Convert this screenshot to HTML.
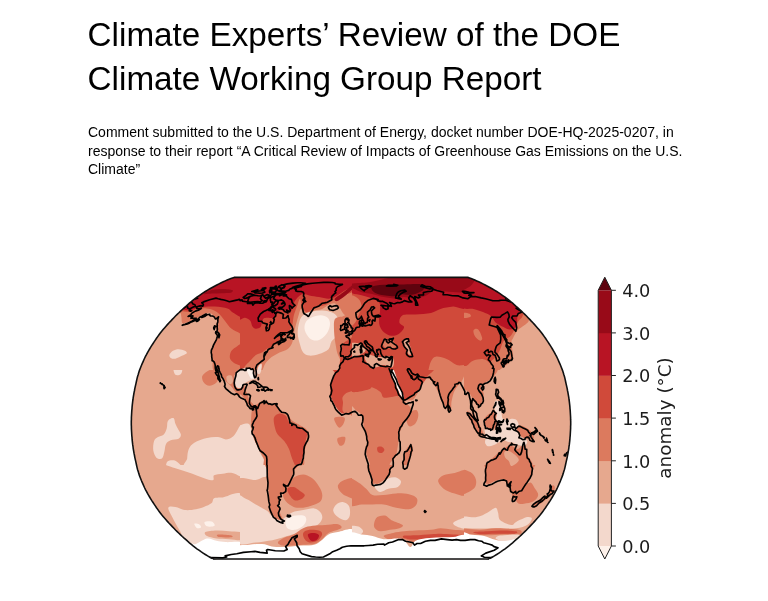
<!DOCTYPE html>
<html><head><meta charset="utf-8">
<style>
html,body{margin:0;padding:0;background:#fff;}
body{width:768px;height:601px;overflow:hidden;position:relative;font-family:"Liberation Sans",sans-serif;color:#000;}
h1{position:absolute;left:87.6px;top:12.8px;margin:0;font-weight:400;font-size:33.25px;line-height:43.75px;white-space:nowrap;}
p.sub{position:absolute;left:88px;top:123.4px;margin:0;font-size:14px;line-height:18.3px;white-space:nowrap;}
#fig{position:absolute;left:0;top:0;}
#fig text{font-family:"DejaVu Sans",sans-serif;fill:#1c1c1c;}
</style></head><body>
<h1>Climate Experts’ Review of the DOE<br>Climate Working Group Report</h1>
<p class="sub">Comment submitted to the U.S. Department of Energy, docket number DOE-HQ-2025-0207, in<br>response to their report “A Critical Review of Impacts of Greenhouse Gas Emissions on the U.S.<br>Climate”</p>
<svg id="fig" width="768" height="601" viewBox="0 0 768 601">
<defs><clipPath id="gc"><path d="M234.1 277.4L232.5 277.9L230.9 278.5L229.1 279.2L227.2 280.0L225.3 280.9L223.3 281.8L221.2 282.8L219.0 283.9L216.8 285.0L214.5 286.2L212.2 287.5L209.9 288.8L207.6 290.1L205.3 291.5L203.1 292.9L201.0 294.3L198.9 295.8L196.9 297.2L195.0 298.7L193.1 300.2L191.3 301.7L189.4 303.2L187.6 304.8L185.9 306.4L184.1 307.9L182.3 309.5L180.6 311.1L178.9 312.8L177.2 314.4L175.5 316.0L173.9 317.7L172.3 319.4L170.7 321.1L169.1 322.7L167.6 324.4L166.0 326.2L164.5 327.9L163.1 329.6L161.7 331.3L160.3 333.1L159.0 334.8L157.7 336.6L156.5 338.3L155.3 340.1L154.1 341.9L152.9 343.7L151.8 345.4L150.7 347.2L149.6 349.0L148.5 350.8L147.5 352.6L146.6 354.4L145.6 356.2L144.7 358.0L143.9 359.8L143.1 361.6L142.3 363.4L141.5 365.2L140.8 367.0L140.1 368.8L139.4 370.6L138.8 372.4L138.3 374.3L137.7 376.1L137.2 377.9L136.8 379.7L136.4 381.5L136.0 383.3L135.6 385.1L135.2 386.9L134.8 388.7L134.5 390.5L134.1 392.3L133.8 394.1L133.5 395.9L133.2 397.7L133.0 399.5L132.7 401.3L132.5 403.1L132.3 404.9L132.1 406.8L132.0 408.6L131.8 410.4L131.7 412.2L131.6 414.0L131.5 415.8L131.4 417.6L131.4 419.4L131.3 421.2L131.3 423.0L131.3 424.8L131.4 426.6L131.4 428.4L131.5 430.2L131.6 432.0L131.7 433.8L131.8 435.6L132.0 437.4L132.1 439.2L132.3 441.1L132.5 442.9L132.7 444.7L133.0 446.5L133.2 448.3L133.5 450.1L133.8 451.9L134.1 453.7L134.5 455.5L134.8 457.3L135.2 459.1L135.6 460.9L136.0 462.7L136.4 464.5L136.8 466.3L137.2 468.1L137.7 469.9L138.3 471.7L138.8 473.6L139.4 475.4L140.1 477.2L140.8 479.0L141.5 480.8L142.3 482.6L143.1 484.4L143.9 486.2L144.7 488.0L145.6 489.8L146.6 491.6L147.5 493.4L148.5 495.2L149.6 497.0L150.7 498.8L151.8 500.6L152.9 502.3L154.1 504.1L155.3 505.9L156.5 507.7L157.7 509.4L159.0 511.2L160.3 512.9L161.7 514.7L163.1 516.4L164.5 518.1L166.0 519.8L167.6 521.6L169.1 523.3L170.7 524.9L172.3 526.6L173.9 528.3L175.5 530.0L177.2 531.6L178.9 533.2L180.6 534.9L182.3 536.5L184.1 538.1L185.9 539.6L187.6 541.2L189.4 542.8L191.3 544.3L193.1 545.8L195.0 547.3L196.9 548.8L198.9 550.2L201.0 551.7L203.1 553.1L205.3 554.5L207.6 555.9L209.9 557.2L212.2 558.5L214.5 559.8L216.8 561.0L219.0 562.1L221.2 563.2L223.3 564.2L225.3 565.1L227.2 566.0L229.1 566.8L230.9 567.5L232.5 568.1L234.1 568.6L467.9 568.6L469.5 568.1L471.1 567.5L472.9 566.8L474.8 566.0L476.7 565.1L478.7 564.2L480.8 563.2L483.0 562.1L485.2 561.0L487.5 559.8L489.8 558.5L492.1 557.2L494.4 555.9L496.7 554.5L498.9 553.1L501.0 551.7L503.1 550.2L505.1 548.8L507.0 547.3L508.9 545.8L510.7 544.3L512.6 542.8L514.4 541.2L516.1 539.6L517.9 538.1L519.7 536.5L521.4 534.9L523.1 533.2L524.8 531.6L526.5 530.0L528.1 528.3L529.7 526.6L531.3 524.9L532.9 523.3L534.4 521.6L536.0 519.8L537.5 518.1L538.9 516.4L540.3 514.7L541.7 512.9L543.0 511.2L544.3 509.4L545.5 507.7L546.7 505.9L547.9 504.1L549.1 502.3L550.2 500.6L551.3 498.8L552.4 497.0L553.5 495.2L554.5 493.4L555.4 491.6L556.4 489.8L557.3 488.0L558.1 486.2L558.9 484.4L559.7 482.6L560.5 480.8L561.2 479.0L561.9 477.2L562.6 475.4L563.2 473.6L563.7 471.7L564.3 469.9L564.8 468.1L565.2 466.3L565.6 464.5L566.0 462.7L566.4 460.9L566.8 459.1L567.2 457.3L567.5 455.5L567.9 453.7L568.2 451.9L568.5 450.1L568.8 448.3L569.0 446.5L569.3 444.7L569.5 442.9L569.7 441.1L569.9 439.2L570.0 437.4L570.2 435.6L570.3 433.8L570.4 432.0L570.5 430.2L570.6 428.4L570.6 426.6L570.7 424.8L570.7 423.0L570.7 421.2L570.6 419.4L570.6 417.6L570.5 415.8L570.4 414.0L570.3 412.2L570.2 410.4L570.0 408.6L569.9 406.8L569.7 404.9L569.5 403.1L569.3 401.3L569.0 399.5L568.8 397.7L568.5 395.9L568.2 394.1L567.9 392.3L567.5 390.5L567.2 388.7L566.8 386.9L566.4 385.1L566.0 383.3L565.6 381.5L565.2 379.7L564.8 377.9L564.3 376.1L563.7 374.3L563.2 372.4L562.6 370.6L561.9 368.8L561.2 367.0L560.5 365.2L559.7 363.4L558.9 361.6L558.1 359.8L557.3 358.0L556.4 356.2L555.4 354.4L554.5 352.6L553.5 350.8L552.4 349.0L551.3 347.2L550.2 345.4L549.1 343.7L547.9 341.9L546.7 340.1L545.5 338.3L544.3 336.6L543.0 334.8L541.7 333.1L540.3 331.3L538.9 329.6L537.5 327.9L536.0 326.2L534.4 324.4L532.9 322.7L531.3 321.1L529.7 319.4L528.1 317.7L526.5 316.0L524.8 314.4L523.1 312.8L521.4 311.1L519.7 309.5L517.9 307.9L516.1 306.4L514.4 304.8L512.6 303.2L510.7 301.7L508.9 300.2L507.0 298.7L505.1 297.2L503.1 295.8L501.0 294.3L498.9 292.9L496.7 291.5L494.4 290.1L492.1 288.8L489.8 287.5L487.5 286.2L485.2 285.0L483.0 283.9L480.8 282.8L478.7 281.8L476.7 280.9L474.8 280.0L472.9 279.2L471.1 278.5L469.5 277.9L467.9 277.4Z"/></clipPath><clipPath id="fc"><rect x="120" y="270" width="470" height="289.3"/></clipPath></defs>
<g clip-path="url(#fc)"><g clip-path="url(#gc)">
<rect x="120" y="270" width="470" height="300" fill="#e6a88e"/>
<defs><clipPath id="w0"><rect x="128" y="275" width="112" height="95"/></clipPath><clipPath id="w1"><rect x="240" y="275" width="112" height="95"/></clipPath><clipPath id="w2"><rect x="352" y="275" width="112" height="95"/></clipPath><clipPath id="w3"><rect x="464" y="275" width="112" height="95"/></clipPath><clipPath id="w4"><rect x="128" y="370" width="112" height="95"/></clipPath><clipPath id="w5"><rect x="240" y="370" width="112" height="95"/></clipPath><clipPath id="w6"><rect x="352" y="370" width="112" height="95"/></clipPath><clipPath id="w7"><rect x="464" y="370" width="112" height="95"/></clipPath><clipPath id="w8"><rect x="128" y="465" width="112" height="95"/></clipPath><clipPath id="w9"><rect x="240" y="465" width="112" height="95"/></clipPath><clipPath id="w10"><rect x="352" y="465" width="112" height="95"/></clipPath><clipPath id="w11"><rect x="464" y="465" width="112" height="95"/></clipPath><clipPath id="w12"><rect x="216" y="350" width="64" height="48"/></clipPath><clipPath id="w13"><rect x="328" y="290" width="96" height="72"/></clipPath><clipPath id="w14"><rect x="464" y="380" width="96" height="72"/></clipPath><clipPath id="w15"><rect x="480" y="436" width="96" height="72"/></clipPath></defs><g clip-path="url(#w0)">
<path d="M169.4 354.8C169.8 353.6 171.5 351.7 173.0 350.8C174.5 349.9 176.6 349.2 178.6 349.2C180.5 349.2 183.5 350.2 184.9 350.8C186.2 351.5 187.2 352.4 186.8 353.2C186.4 354.0 184.4 354.6 182.5 355.6C180.6 356.5 177.4 358.3 175.4 358.7C173.4 359.1 171.7 358.6 170.7 357.9C169.7 357.3 169.0 356.0 169.4 354.8Z" fill="#f3d8cc"/>
<path d="M173.0 310.5C176.4 317.3 178.6 311.5 180.0 312.6C181.4 313.7 180.9 315.4 181.4 317.2C181.9 318.9 181.2 322.6 182.8 323.2C184.4 323.8 188.7 321.7 191.2 320.8C193.6 319.9 195.4 318.8 197.5 317.7C199.6 316.5 201.7 315.0 203.8 314.2C205.9 313.4 208.4 312.6 210.1 312.9C211.9 313.2 212.9 314.8 214.1 316.1C215.3 317.4 217.0 319.0 217.3 320.8C217.5 322.7 215.4 324.9 215.7 327.1C215.9 329.4 219.1 331.6 218.8 334.2C218.6 336.9 215.3 340.2 214.1 342.9C212.9 345.7 212.0 347.9 211.7 350.8C211.5 353.7 211.7 356.6 212.5 360.3C213.3 364.0 210.5 370.8 216.5 372.9C222.4 375.0 242.8 389.8 248.1 372.9C253.3 356.1 262.8 288.7 248.1 271.8C233.3 255.0 172.1 265.4 159.6 271.8C147.1 278.3 169.6 303.8 173.0 310.5Z" fill="#dc7a5e"/>
<path d="M174.6 310.1C176.9 316.7 178.5 311.1 181.2 311.3C184.0 311.6 188.2 312.1 191.2 311.6C194.2 311.2 195.9 308.9 199.1 308.5C202.2 308.0 206.9 308.1 210.1 309.0C213.4 309.8 216.2 311.5 218.7 313.5C221.1 315.5 222.9 318.5 225.0 321.0C227.1 323.5 228.8 326.5 231.3 328.6C233.8 330.6 238.0 332.1 240.0 333.4C242.0 334.8 242.8 335.3 243.3 336.6C243.9 337.9 244.3 339.8 243.3 341.3C242.3 342.9 239.5 344.3 237.5 345.9C235.5 347.5 232.5 348.9 231.3 351.0C230.1 353.1 229.4 356.3 230.0 358.4C230.7 360.5 233.0 362.2 234.9 363.5C236.9 364.7 239.6 365.3 241.7 365.8C243.9 366.4 247.0 382.3 248.1 366.6C249.1 351.0 261.5 287.6 248.1 271.8C234.6 256.0 179.7 265.5 167.5 271.8C155.2 278.2 172.3 303.5 174.6 310.1Z" fill="#d04a3a"/>
<path d="M175.4 309.0C176.4 315.2 179.1 309.3 181.7 309.4C184.3 309.6 188.1 310.4 191.2 310.1C194.2 309.7 196.1 307.8 200.0 307.2C204.0 306.6 210.5 306.4 215.0 306.6C219.6 306.8 224.6 307.5 227.5 308.5C230.4 309.4 230.3 310.9 232.4 312.3C234.5 313.6 237.4 315.7 240.0 316.7C242.6 317.7 246.7 325.9 248.1 318.4C249.4 311.0 260.2 279.6 248.1 271.8C235.9 264.1 187.5 265.7 175.4 271.8C163.3 278.0 174.3 302.7 175.4 309.0Z" fill="#b81424"/>
<path d="M203.8 294.0C203.8 293.4 208.6 290.8 211.7 290.0C214.9 289.2 219.4 288.9 222.8 288.9C226.2 288.9 230.9 289.4 232.3 290.0C233.6 290.6 232.5 292.2 230.7 292.7C228.8 293.2 224.4 293.0 221.2 293.2C218.0 293.3 214.6 293.5 211.7 293.6C208.8 293.8 203.8 294.6 203.8 294.0Z" fill="#980a18"/>
</g>
<g clip-path="url(#w1)">
<path d="M236.8 271.8C256.6 255.0 335.6 264.2 355.3 271.8C375.1 279.5 356.4 310.1 355.3 317.7C354.3 325.2 351.0 318.0 349.0 317.3C347.0 316.7 345.0 315.4 343.5 313.7C341.9 312.0 341.0 309.1 339.5 307.4C338.1 305.7 336.6 303.8 334.8 303.4C332.9 303.0 330.6 304.1 328.5 305.0C326.4 305.9 324.5 308.0 322.1 309.0C319.8 309.9 316.6 309.6 314.2 310.5C311.9 311.5 309.8 314.1 307.9 314.5C306.1 314.9 304.4 313.8 303.2 312.9C302.0 312.0 301.6 308.4 300.8 309.0C300.0 309.5 299.4 313.0 298.4 316.1C297.5 319.1 296.1 324.0 295.3 327.1C294.5 330.3 294.2 332.4 293.7 335.0C293.2 337.7 293.2 340.6 292.1 342.9C291.1 345.3 289.5 347.7 287.4 349.2C285.3 350.8 282.1 351.1 279.5 352.4C276.9 353.7 274.0 355.3 271.6 357.1C269.2 359.0 267.4 360.8 265.3 363.5C263.2 366.1 263.7 371.4 259.0 372.9C254.2 374.5 240.5 389.8 236.8 372.9C233.2 356.1 217.1 288.7 236.8 271.8Z" fill="#dc7a5e"/>
<path d="M236.8 271.8C256.6 255.5 335.6 268.9 355.3 271.8C375.1 274.7 357.4 285.3 355.3 289.2C353.2 293.2 346.4 293.7 342.7 295.5C339.0 297.4 336.1 298.7 333.2 300.3C330.3 301.9 327.7 304.0 325.3 305.0C322.9 306.1 321.1 305.9 319.0 306.6C316.9 307.3 314.5 308.0 312.7 309.0C310.8 309.9 309.4 311.9 307.9 312.1C306.5 312.4 305.0 311.5 304.0 310.5C302.9 309.6 302.3 308.6 301.6 306.6C300.9 304.6 300.8 298.7 300.0 298.7C299.2 298.7 297.9 303.7 296.9 306.6C295.8 309.5 294.5 312.9 293.7 316.1C292.9 319.2 293.2 322.7 292.1 325.6C291.1 328.4 289.8 330.8 287.4 333.4C285.0 336.1 281.1 338.7 277.9 341.3C274.8 344.0 271.1 346.6 268.4 349.2C265.8 351.9 264.2 354.8 262.1 357.1C260.0 359.5 257.9 361.6 255.8 363.5C253.7 365.3 251.6 367.1 249.5 368.2C247.4 369.3 245.3 369.6 243.2 369.9C241.1 370.2 237.9 386.3 236.8 369.9C235.8 353.6 217.1 288.2 236.8 271.8Z" fill="#d04a3a"/>
<path d="M236.8 271.8C256.7 264.4 335.6 269.7 355.3 271.8C375.1 273.9 357.2 281.3 355.3 284.5C353.5 287.6 347.7 288.7 344.3 290.8C340.8 292.9 337.4 295.8 334.8 297.1C332.1 298.4 331.1 298.7 328.5 298.7C325.8 298.7 322.1 297.6 319.0 297.1C315.8 296.6 312.1 296.1 309.5 295.5C306.9 295.0 305.0 293.7 303.2 294.0C301.3 294.2 299.9 295.5 298.4 296.8C297.0 298.1 295.3 300.3 294.3 302.0C293.4 303.8 293.4 305.7 292.8 307.2C292.1 308.8 291.9 310.8 290.2 311.3C288.6 311.9 284.9 310.4 282.8 310.4C280.7 310.4 279.1 310.1 277.8 311.3C276.4 312.5 276.2 316.6 274.4 317.7C272.7 318.7 269.0 317.5 267.2 317.7C265.4 317.8 264.6 317.8 263.7 318.4C262.8 319.1 262.5 320.3 262.0 321.8C261.4 323.2 261.6 326.0 260.5 327.1C259.5 328.3 257.2 328.8 255.8 328.7C254.4 328.6 253.2 327.7 252.3 326.3C251.4 325.0 251.5 322.2 250.3 320.8C249.1 319.4 247.4 318.5 245.1 317.8C242.7 317.1 237.4 324.0 236.1 316.4C234.7 308.7 217.0 279.3 236.8 271.8Z" fill="#b81424"/>
<path d="M250.0 360.9C251.9 359.0 254.2 356.2 256.3 354.8C258.4 353.3 260.6 353.3 262.4 352.2C264.3 351.2 266.0 349.0 267.5 348.5C269.0 348.0 271.7 347.8 271.6 349.2C271.5 350.7 268.7 354.8 266.9 357.1C265.0 359.5 262.5 360.8 260.5 363.5C258.6 366.1 258.0 371.4 255.0 372.9C252.0 374.5 244.2 374.0 242.5 372.9C240.8 371.9 243.5 368.6 244.7 366.6C246.0 364.6 248.0 362.9 250.0 360.9Z" fill="#dc7a5e"/>
<path d="M334.8 298.7C335.7 297.3 339.8 294.9 342.7 292.7C345.5 290.5 349.9 287.0 352.0 285.4C354.1 283.9 354.8 283.1 355.3 283.5C355.9 284.0 355.9 286.9 355.3 288.0C354.8 289.0 353.8 288.2 352.0 289.7C350.2 291.1 346.7 294.7 344.3 296.6C341.8 298.5 338.7 300.7 337.2 301.1C335.6 301.4 333.9 300.1 334.8 298.7Z" fill="#980a18"/>
<path d="M299.2 322.4C300.0 319.5 300.7 317.8 302.4 316.1C304.1 314.4 306.2 313.0 309.5 312.1C312.8 311.2 318.2 310.4 322.1 310.5C326.1 310.7 330.4 311.5 333.2 312.9C336.0 314.4 337.4 316.9 338.7 319.2C340.0 321.6 341.2 324.5 341.1 327.1C341.0 329.8 339.5 332.7 337.9 335.0C336.4 337.4 333.2 339.0 331.6 341.3C330.0 343.7 330.6 347.1 328.5 349.2C326.4 351.4 322.1 352.9 319.0 354.0C315.8 355.0 312.1 355.8 309.5 355.6C306.9 355.3 304.8 354.2 303.2 352.4C301.6 350.6 300.9 347.7 300.0 344.5C299.1 341.3 297.8 337.1 297.7 333.4C297.5 329.8 298.4 325.3 299.2 322.4Z" fill="#f3d8cc"/>
<path d="M305.6 322.4C306.6 320.3 308.6 318.8 311.1 317.7C313.6 316.5 317.8 315.3 320.6 315.3C323.3 315.3 326.1 316.2 327.7 317.7C329.3 319.1 330.0 321.6 330.0 324.0C330.0 326.3 329.0 329.5 327.7 331.9C326.4 334.2 324.1 336.7 322.1 338.2C320.2 339.6 317.9 340.6 315.8 340.6C313.7 340.6 311.3 339.9 309.5 338.2C307.7 336.5 305.4 332.9 304.8 330.3C304.1 327.7 304.5 324.5 305.6 322.4Z" fill="#fdf1ea"/>
<path d="M334.8 319.2C336.2 316.7 339.3 316.9 342.7 316.4C346.1 315.9 353.2 306.6 355.3 316.1C357.4 325.5 357.3 363.5 355.3 372.9C353.3 382.4 345.7 374.5 343.5 372.9C341.2 371.4 342.9 366.6 341.9 363.5C340.9 360.3 338.7 357.1 337.6 354.0C336.6 350.8 336.2 348.2 335.6 344.5C335.0 340.8 334.3 336.1 334.1 331.9C334.0 327.7 333.4 321.8 334.8 319.2Z" fill="#dc7a5e"/>
<path d="M342.7 344.5C344.0 342.1 346.9 340.8 349.0 339.8C351.1 338.7 354.3 332.7 355.3 338.2C356.4 343.7 357.7 367.1 355.3 372.9C352.9 378.7 343.7 374.5 341.1 372.9C338.5 371.4 339.8 366.6 339.8 363.5C339.8 360.3 340.6 357.1 341.1 354.0C341.6 350.8 341.4 346.9 342.7 344.5Z" fill="#d04a3a"/>
</g>
<g clip-path="url(#w2)">
<rect x="352" y="275" width="112" height="95" fill="#d04a3a"/>
<path d="M348.8 297.1C350.4 292.6 356.2 297.1 358.3 298.7C360.4 300.3 361.5 303.7 361.5 306.6C361.5 309.5 359.4 313.4 358.3 316.1C357.3 318.7 356.7 320.8 355.2 322.4C353.6 324.0 349.9 329.8 348.8 325.6C347.8 321.3 347.3 301.6 348.8 297.1Z" fill="#dc7a5e"/>
<path d="M348.8 344.5C350.2 342.3 354.2 342.8 356.7 342.9C359.2 343.1 362.4 344.0 363.8 345.3C365.3 346.6 365.8 349.4 365.4 350.8C365.0 352.3 363.2 353.1 361.5 354.0C359.8 354.9 357.3 356.0 355.2 356.4C353.1 356.7 349.9 358.3 348.8 356.4C347.8 354.4 347.5 346.7 348.8 344.5Z" fill="#e6a88e"/>
<path d="M365.4 354.0C366.6 353.2 370.2 355.0 372.5 355.6C374.9 356.1 376.7 357.0 379.6 357.1C382.5 357.3 387.5 355.8 389.9 356.4C392.3 356.9 393.5 358.5 393.9 360.3C394.3 362.1 394.0 366.6 392.3 367.4C390.6 368.2 386.4 365.0 383.6 365.0C380.8 365.0 378.1 367.4 375.7 367.4C373.3 367.4 371.1 366.2 369.4 365.0C367.7 363.9 366.1 362.1 365.4 360.3C364.8 358.5 364.2 354.8 365.4 354.0Z" fill="#e6a88e"/>
<path d="M348.8 271.8C368.6 268.7 447.6 266.0 467.3 271.8C487.1 277.6 469.7 300.8 467.3 306.6C464.9 312.4 457.6 306.2 453.1 306.6C448.6 307.0 444.1 307.9 440.5 309.0C436.8 310.0 435.2 312.0 431.0 312.9C426.8 313.8 419.9 314.1 415.2 314.5C410.4 314.9 405.2 314.0 402.6 315.3C399.9 316.6 399.1 320.4 399.4 322.4C399.7 324.4 404.1 325.3 404.1 327.1C404.1 329.0 401.5 332.0 399.4 333.4C397.3 334.9 394.1 336.1 391.5 335.8C388.9 335.6 385.6 333.6 383.6 331.9C381.6 330.2 380.4 327.9 379.6 325.6C378.9 323.2 379.1 320.3 379.2 317.7C379.2 315.0 380.1 312.3 380.1 309.8C380.1 307.3 380.6 304.5 379.2 302.6C377.8 300.7 374.7 299.6 371.7 298.4C368.8 297.1 365.3 296.5 361.5 295.2C357.7 294.0 350.9 294.7 348.8 290.8C346.7 286.9 329.1 275.0 348.8 271.8Z" fill="#b81424"/>
<path d="M348.8 284.8C349.6 284.1 350.0 284.0 353.3 283.5C356.5 283.1 363.5 283.0 368.3 282.3C373.1 281.6 377.9 280.4 382.0 279.4C386.1 278.5 390.2 277.8 393.1 276.6C396.0 275.3 387.0 272.6 399.4 271.8C411.8 271.1 456.0 268.7 467.3 271.8C478.6 275.0 470.7 287.5 467.3 290.8C463.9 294.1 452.3 291.6 446.8 291.6C441.3 291.6 437.6 290.1 434.1 290.8C430.7 291.5 429.4 294.2 426.2 295.5C423.1 296.9 418.9 298.4 415.2 298.7C411.5 299.0 407.3 297.1 404.1 297.1C401.0 297.1 399.7 298.7 396.2 298.7C392.8 298.7 387.6 297.9 383.6 297.1C379.6 296.3 375.7 294.8 372.1 294.0C368.5 293.1 364.9 293.1 362.0 292.2C359.0 291.4 356.7 289.7 354.5 288.9C352.3 288.1 349.8 288.3 348.8 287.6C347.9 287.0 348.1 285.5 348.8 284.8Z" fill="#980a18"/>
<path d="M372.1 286.8C373.8 285.7 378.2 285.2 383.6 284.8C388.9 284.4 397.8 284.5 404.1 284.5C410.4 284.4 418.3 283.6 421.5 284.5C424.7 285.4 424.7 288.3 423.1 290.0C421.5 291.7 416.0 294.1 412.0 294.7C408.1 295.4 402.0 293.7 399.4 294.0C396.8 294.2 399.4 296.2 396.2 296.3C393.1 296.5 384.3 295.5 380.4 294.7C376.6 294.0 374.7 292.9 373.3 291.6C371.9 290.3 370.4 288.0 372.1 286.8Z" fill="#5e030e"/>
<path d="M426.2 376.1C419.4 375.4 427.2 374.1 428.0 371.7C428.7 369.3 429.5 364.2 430.8 361.7C432.1 359.2 433.1 357.1 435.7 356.7C438.4 356.2 443.1 357.6 446.6 359.0C450.1 360.4 453.4 363.9 456.7 365.0C460.1 366.2 464.7 364.0 466.7 365.8C468.7 367.7 475.6 374.4 468.9 376.1C462.2 377.8 433.1 376.8 426.2 376.1Z" fill="#dc7a5e"/>
</g>
<g clip-path="url(#w3)">
<path d="M460.8 271.8C471.9 255.0 515.6 266.0 527.2 271.8C538.8 277.6 530.3 299.7 530.3 306.6C530.3 313.4 527.5 310.5 527.2 312.9C526.9 315.3 529.3 318.7 528.8 320.8C528.2 322.9 525.9 324.0 524.0 325.6C522.2 327.1 519.6 328.2 517.7 330.3C515.9 332.4 514.0 336.1 513.0 338.2C511.9 340.3 511.4 339.8 511.4 342.9C511.4 346.1 513.5 353.7 513.0 357.1C512.4 360.6 510.1 361.6 508.2 363.5C506.4 365.3 504.5 366.6 501.9 368.2C499.3 369.8 499.3 372.2 492.4 372.9C485.6 373.7 466.1 389.8 460.8 372.9C455.6 356.1 449.8 288.7 460.8 271.8Z" fill="#dc7a5e"/>
<path d="M460.8 271.8C471.9 255.0 516.7 265.3 527.2 271.8C537.7 278.4 525.6 302.9 524.0 311.3C522.4 319.8 519.8 318.4 517.7 322.4C515.6 326.3 513.8 331.9 511.4 335.0C509.0 338.2 505.3 339.0 503.5 341.3C501.6 343.7 501.6 346.6 500.3 349.2C499.0 351.9 497.4 354.8 495.6 357.1C493.8 359.5 491.1 360.8 489.3 363.5C487.4 366.1 489.3 371.4 484.5 372.9C479.8 374.5 464.8 389.8 460.8 372.9C456.9 356.1 449.8 288.7 460.8 271.8Z" fill="#d04a3a"/>
<path d="M473.5 330.3C474.0 329.1 476.8 328.2 478.2 329.5C479.7 330.8 481.9 336.3 482.2 338.2C482.4 340.0 481.0 340.8 479.8 340.6C478.6 340.3 476.1 338.3 475.1 336.6C474.0 334.9 473.0 331.5 473.5 330.3Z" fill="#dc7a5e"/>
<path d="M462.4 312.9C463.6 312.3 468.2 313.0 469.5 313.7C470.8 314.4 471.5 316.2 470.3 316.9C469.1 317.5 463.7 318.3 462.4 317.7C461.1 317.0 461.2 313.6 462.4 312.9Z" fill="#dc7a5e"/>
<path d="M460.8 366.6C461.8 364.9 464.7 366.8 466.7 365.8C468.7 364.9 470.2 361.9 473.0 360.8C475.8 359.7 480.4 358.8 483.3 359.2C486.1 359.6 488.3 361.3 490.1 363.3C491.9 365.3 493.4 369.2 494.0 371.4C494.7 373.5 499.5 375.3 494.0 376.1C488.5 376.9 466.4 377.7 460.8 376.1C455.3 374.5 459.9 368.3 460.8 366.6Z" fill="#dc7a5e"/>
<path d="M460.8 271.8C472.4 266.3 520.3 265.8 530.3 271.8C540.4 277.9 523.0 301.1 520.9 308.2C518.8 315.3 518.5 311.3 517.7 314.5C516.9 317.7 517.4 324.6 516.1 327.1C514.8 329.6 511.9 329.5 509.8 329.5C507.7 329.5 505.9 328.3 503.5 327.1C501.1 325.9 497.7 324.2 495.6 322.4C493.5 320.5 493.0 317.8 490.9 316.1C488.7 314.4 485.9 313.3 483.0 312.1C480.1 310.9 477.2 310.1 473.5 309.0C469.8 307.8 462.9 311.2 460.8 305.0C458.7 298.8 449.3 277.4 460.8 271.8Z" fill="#b81424"/>
<path d="M460.8 271.8C463.7 269.0 476.0 270.3 478.2 271.8C480.5 273.4 475.8 278.7 474.3 281.3C472.7 283.9 471.0 286.1 468.7 287.3C466.5 288.6 462.2 291.5 460.8 288.9C459.5 286.3 457.9 274.7 460.8 271.8Z" fill="#980a18"/>
</g>
<g clip-path="url(#w4)">
<path d="M173.8 368.4C174.9 367.4 180.5 367.5 181.7 368.4C182.9 369.3 182.0 372.9 180.9 373.9C179.9 375.0 176.6 375.7 175.4 374.7C174.2 373.8 172.8 369.5 173.8 368.4Z" fill="#f3d8cc"/>
<path d="M169.9 419.0C170.9 418.3 172.9 417.4 173.8 418.2C174.7 419.0 174.6 421.7 175.4 423.7C176.2 425.7 177.6 428.2 178.6 430.0C179.5 431.9 180.9 433.3 180.9 434.8C180.9 436.2 180.3 437.8 178.6 438.7C176.8 439.6 172.8 439.4 170.7 440.3C168.5 441.2 167.0 442.3 165.9 444.2C164.9 446.2 165.0 449.8 164.3 452.1C163.7 454.5 163.3 457.5 162.0 458.5C160.6 459.4 157.9 459.0 156.4 457.7C155.0 456.4 153.7 453.3 153.3 450.6C152.9 447.8 153.3 443.3 154.1 441.1C154.9 438.8 156.4 438.2 158.0 437.1C159.6 436.1 162.1 436.2 163.5 434.8C165.0 433.3 166.0 430.6 166.7 428.4C167.4 426.3 167.0 423.7 167.5 422.1C168.0 420.6 168.8 419.6 169.9 419.0Z" fill="#f3d8cc"/>
<path d="M188.8 449.0C190.0 446.4 191.3 444.5 194.3 442.7C197.4 440.8 203.0 438.8 207.0 437.9C210.9 437.0 214.9 436.9 218.0 437.1C221.2 437.4 223.6 439.5 225.9 439.5C228.3 439.5 230.6 438.3 232.3 437.1C233.9 436.0 234.6 434.7 235.9 432.7C237.2 430.8 238.9 426.8 240.2 425.4C241.4 424.1 242.8 417.4 243.3 424.5C243.8 431.6 252.5 460.7 243.3 467.9C234.1 475.2 197.4 469.5 188.0 467.9C178.7 466.4 187.1 461.6 187.2 458.5C187.4 455.3 187.6 451.6 188.8 449.0Z" fill="#f3d8cc"/>
<path d="M167.5 461.6C168.8 460.4 173.0 459.8 175.4 460.8C177.8 461.9 183.0 466.8 181.7 467.9C180.4 469.1 169.9 469.0 167.5 467.9C165.1 466.9 166.2 462.8 167.5 461.6Z" fill="#f3d8cc"/>
<path d="M202.2 376.3C202.8 374.5 205.1 372.8 207.0 371.6C208.8 370.4 211.3 368.8 213.3 369.2C215.3 369.6 218.3 371.7 218.8 373.9C219.4 376.2 218.0 380.7 216.5 382.6C214.9 384.6 211.5 385.8 209.4 385.8C207.2 385.8 205.0 384.2 203.8 382.6C202.6 381.1 201.7 378.2 202.2 376.3Z" fill="#dc7a5e"/>
<path d="M216.5 366.8C219.9 365.0 238.8 362.1 243.3 366.8C247.8 371.6 244.4 390.8 243.3 395.3C242.3 399.8 239.1 395.3 237.0 393.7C234.9 392.1 233.0 388.4 230.7 385.8C228.3 383.2 225.2 381.1 222.8 377.9C220.4 374.7 213.0 368.7 216.5 366.8Z" fill="#dc7a5e"/>
<path d="M226.7 376.3C227.4 375.3 230.4 374.7 231.5 375.5C232.5 376.3 233.2 379.6 233.0 381.1C232.9 382.5 231.7 384.1 230.7 384.2C229.7 384.3 227.9 383.2 227.2 381.8C226.5 380.5 226.0 377.4 226.7 376.3Z" fill="#e6a88e"/>
</g>
<g clip-path="url(#w5)">
<path d="M236.8 424.5C237.4 417.4 238.7 425.4 240.0 425.3C241.3 425.2 243.2 423.8 244.7 423.7C246.3 423.6 248.2 422.9 249.5 424.5C250.7 426.1 251.4 430.4 252.3 433.2C253.2 436.0 253.8 437.9 255.0 441.1C256.2 444.2 258.0 447.7 259.7 452.1C261.5 456.6 269.1 465.3 265.3 467.9C261.5 470.6 241.6 475.2 236.8 467.9C232.1 460.7 236.3 431.6 236.8 424.5Z" fill="#f3d8cc"/>
<path d="M252.6 407.9C253.7 405.4 255.5 405.1 257.4 404.0C259.2 402.8 261.3 400.8 263.7 400.8C266.1 400.8 269.4 403.4 271.6 404.0C273.8 404.5 275.8 403.0 277.1 404.0C278.4 404.9 277.8 407.8 279.5 409.5C281.2 411.2 285.3 412.4 287.4 414.2C289.5 416.1 290.0 418.7 292.1 420.6C294.2 422.4 297.7 423.8 300.0 425.3C302.4 426.7 304.9 427.7 306.3 429.2C307.8 430.8 308.7 432.3 308.7 434.8C308.7 437.3 307.1 441.1 306.3 444.2C305.6 447.4 304.9 449.8 304.0 453.7C303.1 457.7 307.0 465.6 300.8 467.9C294.6 470.3 273.0 469.5 266.9 467.9C260.7 466.4 265.0 461.6 263.7 458.5C262.4 455.3 260.5 452.1 259.0 449.0C257.4 445.8 255.4 442.7 254.2 439.5C253.0 436.3 252.4 433.5 251.8 430.0C251.3 426.6 250.9 422.7 251.1 419.0C251.2 415.3 251.6 410.4 252.6 407.9Z" fill="#dc7a5e"/>
<path d="M236.8 382.6C237.9 381.3 241.6 382.6 243.2 384.2C244.7 385.8 245.3 389.5 246.3 392.1C247.4 394.7 248.2 397.8 249.5 400.0C250.8 402.3 254.0 404.2 254.2 405.5C254.5 406.9 252.4 408.6 251.1 407.9C249.7 407.3 247.9 403.7 246.3 401.6C244.7 399.5 243.2 396.9 241.6 395.3C240.0 393.7 237.6 394.2 236.8 392.1C236.1 390.0 235.8 384.0 236.8 382.6Z" fill="#dc7a5e"/>
<path d="M274.0 417.4C274.8 415.2 277.5 413.7 279.5 413.4C281.5 413.2 284.2 414.4 285.8 415.8C287.4 417.3 287.4 420.6 289.0 422.1C290.6 423.7 292.9 424.2 295.3 425.3C297.7 426.3 301.2 427.1 303.2 428.4C305.2 429.8 306.7 431.1 307.1 433.2C307.5 435.3 306.1 437.9 305.6 441.1C305.0 444.2 304.8 448.7 304.0 452.1C303.2 455.6 302.0 459.0 300.8 461.6C299.6 464.3 298.3 468.5 296.9 467.9C295.4 467.4 293.4 461.6 292.1 458.5C290.8 455.3 290.3 451.9 289.0 449.0C287.7 446.1 286.1 443.5 284.2 441.1C282.4 438.7 279.5 437.1 277.9 434.8C276.3 432.4 275.4 429.8 274.8 426.9C274.1 424.0 273.2 419.6 274.0 417.4Z" fill="#d04a3a"/>
<path d="M331.6 366.8C335.0 365.8 351.4 359.2 355.3 366.8C359.3 374.5 356.4 404.9 355.3 412.7C354.3 420.4 351.4 413.4 349.0 413.4C346.6 413.4 343.5 414.1 341.1 412.7C338.7 411.2 336.5 407.6 334.8 404.8C333.1 401.9 331.5 399.0 330.8 395.3C330.2 391.6 330.2 386.3 330.8 382.6C331.5 379.0 334.6 375.8 334.8 373.2C334.9 370.5 328.2 367.9 331.6 366.8Z" fill="#d04a3a"/>
<path d="M342.5 397.5C343.1 395.9 344.7 394.1 346.3 393.1C347.9 392.0 350.2 391.6 352.0 391.2C353.8 390.7 356.1 386.4 356.9 390.5C357.7 394.6 358.0 411.7 356.9 415.8C355.8 419.9 352.6 415.4 350.6 415.0C348.6 414.6 346.4 414.3 345.0 413.4C343.7 412.6 342.9 411.8 342.5 410.0C342.2 408.1 343.0 404.6 343.0 402.5C343.0 400.5 342.0 399.1 342.5 397.5Z" fill="#dc7a5e"/>
<path d="M334.8 417.4C336.2 416.5 342.8 416.3 344.3 417.4C345.7 418.4 344.3 422.0 343.5 423.7C342.7 425.4 340.8 427.8 339.5 427.7C338.2 427.5 336.4 424.6 335.6 422.9C334.8 421.2 333.3 418.3 334.8 417.4Z" fill="#dc7a5e"/>
<path d="M337.9 437.9C339.2 437.1 344.0 436.2 345.0 437.1C346.1 438.1 345.0 442.0 344.3 443.5C343.5 444.9 341.4 446.1 340.3 445.8C339.2 445.6 338.0 443.2 337.6 441.9C337.2 440.6 336.7 438.7 337.9 437.9Z" fill="#dc7a5e"/>
</g>
<g clip-path="url(#w6)">
<rect x="352" y="370" width="112" height="95" fill="#dc7a5e"/>
<path d="M348.8 409.5C350.2 400.0 354.6 410.0 356.7 411.1C358.8 412.1 360.2 412.7 361.5 415.8C362.8 419.0 363.6 426.1 364.6 430.0C365.7 434.0 367.5 435.8 367.8 439.5C368.1 443.2 366.0 447.4 366.2 452.1C366.5 456.9 372.3 465.3 369.4 467.9C366.5 470.6 352.3 477.7 348.8 467.9C345.4 458.2 347.5 419.0 348.8 409.5Z" fill="#e6a88e"/>
<path d="M404.9 400.8C405.3 399.1 410.8 401.7 413.6 399.2C416.4 396.7 419.4 389.5 421.5 385.8C423.6 382.1 424.1 377.4 426.2 377.1C428.4 376.8 431.8 380.9 434.1 384.2C436.5 387.5 438.5 393.0 440.5 396.9C442.4 400.7 444.3 404.8 446.0 407.1C447.7 409.5 449.8 412.0 450.7 411.1C451.7 410.2 450.9 405.0 451.5 401.6C452.2 398.2 453.1 393.7 454.7 390.5C456.3 387.4 458.9 384.5 461.0 382.6C463.1 380.8 466.3 365.3 467.3 379.5C468.4 393.7 479.4 453.2 467.3 467.9C455.2 482.7 406.5 470.0 394.7 467.9C382.8 465.8 395.7 459.3 396.2 455.3C396.8 451.4 397.6 447.9 398.1 444.2C398.7 440.6 398.1 437.1 399.4 433.2C400.7 429.2 403.7 424.5 405.7 420.6C407.7 416.6 411.4 412.8 411.2 409.5C411.1 406.2 404.5 402.5 404.9 400.8Z" fill="#e6a88e"/>
<path d="M406.5 449.0C407.7 447.1 410.2 444.0 411.2 444.2C412.3 444.5 413.2 447.7 412.8 450.6C412.4 453.5 410.2 458.7 408.9 461.6C407.6 464.5 406.0 467.4 404.9 467.9C403.9 468.5 402.7 466.9 402.6 464.8C402.4 462.7 403.5 457.9 404.1 455.3C404.8 452.7 405.3 450.8 406.5 449.0Z" fill="#dc7a5e"/>
<path d="M406.5 417.4C407.0 414.9 410.3 412.3 412.0 411.1C413.7 409.9 415.7 409.5 416.8 410.3C417.8 411.1 418.6 413.6 418.3 415.8C418.1 418.0 416.8 422.0 415.2 423.7C413.6 425.4 410.3 427.1 408.9 426.1C407.4 425.0 406.0 419.9 406.5 417.4Z" fill="#dc7a5e"/>
<path d="M348.8 366.8C362.1 362.9 415.0 365.3 428.1 366.8C441.3 368.4 428.6 373.3 427.5 376.3C426.4 379.3 423.6 382.1 421.5 385.0C419.5 387.9 418.1 391.3 415.2 393.7C412.3 396.1 406.8 398.8 404.1 399.2C401.5 399.6 401.5 396.5 399.4 396.1C397.3 395.7 394.1 396.6 391.5 396.9C388.9 397.1 385.4 398.4 383.6 397.6C381.8 396.9 382.3 393.8 380.4 392.1C378.6 390.4 374.6 387.8 372.5 387.4C370.4 387.0 371.7 389.2 367.8 389.7C363.8 390.3 352.0 394.4 348.8 390.5C345.7 386.7 335.6 370.8 348.8 366.8Z" fill="#d04a3a"/>
<path d="M389.9 369.2C389.4 366.4 391.8 366.4 393.4 369.2C395.0 372.0 397.7 381.3 399.4 385.8C401.1 390.3 403.3 394.3 403.7 396.1C404.0 397.9 402.5 398.3 401.3 396.5C400.0 394.8 398.1 390.4 396.2 385.8C394.3 381.2 390.4 372.0 389.9 369.2Z" fill="#fdf1ea"/>
<path d="M377.3 447.4C377.8 446.5 380.0 446.2 381.2 446.6C382.4 447.0 384.3 448.7 384.4 449.8C384.5 450.8 383.1 452.5 382.0 452.9C381.0 453.3 378.9 453.1 378.1 452.1C377.3 451.2 376.7 448.3 377.3 447.4Z" fill="#d04a3a"/>
</g>
<g clip-path="url(#w7)">
<path d="M460.8 366.8C466.6 363.7 490.1 365.3 495.6 366.8C501.1 368.4 495.3 373.9 494.0 376.3C492.7 378.7 489.8 379.5 487.7 381.1C485.6 382.6 482.0 383.7 481.4 385.8C480.7 387.9 483.6 391.1 483.7 393.7C483.9 396.3 483.1 399.5 482.2 401.6C481.2 403.7 479.7 406.6 478.2 406.3C476.8 406.1 475.1 402.4 473.5 400.0C471.9 397.6 470.3 394.0 468.7 392.1C467.2 390.3 465.3 390.0 464.0 389.0C462.7 387.9 461.4 389.5 460.8 385.8C460.3 382.1 455.0 370.0 460.8 366.8Z" fill="#dc7a5e"/>
<path d="M467.2 411.1C467.9 410.8 471.4 413.4 473.5 415.8C475.6 418.2 478.2 422.4 479.8 425.3C481.4 428.2 483.0 431.6 483.0 433.2C483.0 434.8 481.4 436.1 479.8 434.8C478.2 433.5 475.3 428.2 473.5 425.3C471.6 422.4 469.8 419.8 468.7 417.4C467.7 415.0 466.4 411.3 467.2 411.1Z" fill="#dc7a5e"/>
<path d="M484.5 419.0C485.1 416.3 488.9 413.8 490.9 412.7C492.8 411.5 495.2 410.5 496.4 411.9C497.6 413.2 498.1 417.9 498.0 420.6C497.8 423.2 497.3 426.3 495.6 427.7C493.9 429.0 489.5 429.9 487.7 428.4C485.9 427.0 484.0 421.6 484.5 419.0Z" fill="#dc7a5e"/>
<path d="M516.1 429.2C516.4 427.9 520.1 426.6 522.4 426.9C524.8 427.1 528.5 429.0 530.3 430.8C532.2 432.7 534.0 436.7 533.5 437.9C533.0 439.1 529.3 438.5 527.2 437.9C525.1 437.4 522.7 436.2 520.9 434.8C519.0 433.3 515.9 430.6 516.1 429.2Z" fill="#dc7a5e"/>
<path d="M487.7 467.9C481.9 465.8 492.7 458.7 495.6 455.3C498.5 451.9 502.4 449.0 505.1 447.4C507.7 445.8 509.3 445.6 511.4 445.8C513.5 446.1 515.6 449.2 517.7 449.0C519.8 448.7 522.4 443.5 524.0 444.2C525.6 445.0 526.1 449.8 527.2 453.7C528.2 457.7 536.9 465.6 530.3 467.9C523.8 470.3 493.5 470.0 487.7 467.9Z" fill="#dc7a5e"/>
<path d="M485.3 441.1C485.9 439.8 488.4 438.7 490.9 437.9C493.4 437.1 497.7 437.4 500.3 436.3C503.0 435.3 504.8 434.0 506.7 431.6C508.5 429.2 509.8 424.0 511.4 422.1C513.0 420.3 515.1 419.2 516.1 420.6C517.2 421.9 516.9 427.4 517.7 430.0C518.5 432.7 519.3 434.5 520.9 436.3C522.4 438.2 526.7 439.5 527.2 441.1C527.7 442.7 525.9 445.3 524.0 445.8C522.2 446.4 518.5 445.0 516.1 444.2C513.8 443.5 511.9 441.9 509.8 441.1C507.7 440.3 505.9 439.0 503.5 439.5C501.1 440.0 498.2 443.2 495.6 444.2C493.0 445.3 489.4 446.4 487.7 445.8C486.0 445.3 484.8 442.4 485.3 441.1Z" fill="#f3d8cc"/>
<path d="M494.8 401.6C495.5 399.5 498.5 400.5 499.5 403.2C500.6 405.8 501.4 414.2 501.1 417.4C500.9 420.6 498.9 422.4 498.0 422.1C497.0 421.9 496.1 419.2 495.6 415.8C495.1 412.4 494.1 403.7 494.8 401.6Z" fill="#f3d8cc"/>
</g>
<g clip-path="url(#w8)">
<path d="M164.3 461.8C151.4 462.4 164.1 463.9 165.9 465.0C167.8 466.1 172.2 467.1 175.4 468.2C178.6 469.2 181.7 470.3 184.9 471.3C188.0 472.4 190.7 473.2 194.3 474.5C198.0 475.8 203.8 478.3 207.0 479.2C210.1 480.1 212.1 480.7 213.3 480.0C214.5 479.3 212.5 476.3 214.1 475.3C215.7 474.2 219.8 474.1 222.8 473.7C225.8 473.3 228.8 472.5 232.3 472.9C235.7 473.3 241.5 478.2 243.3 476.4C245.2 474.5 256.5 464.3 243.3 461.8C230.2 459.4 177.2 461.3 164.3 461.8Z" fill="#f3d8cc"/>
<path d="M168.3 507.7C168.8 505.9 172.6 506.5 175.4 506.9C178.2 507.3 181.4 509.6 184.9 510.0C188.3 510.4 192.8 509.8 195.9 509.2C199.1 508.7 201.2 507.9 203.8 506.9C206.5 505.8 210.0 504.4 211.7 502.9C213.4 501.5 212.3 499.1 214.1 498.2C215.9 497.3 217.9 497.6 222.8 497.4C227.7 497.1 239.9 488.3 243.3 496.6C246.7 504.9 252.0 538.7 243.3 547.1C234.6 555.6 201.7 549.8 191.2 547.1C180.7 544.5 183.3 536.3 180.1 531.3C177.0 526.3 174.2 521.1 172.2 517.1C170.3 513.2 167.8 509.4 168.3 507.7Z" fill="#f3d8cc"/>
<path d="M205.4 532.1C207.0 531.2 212.5 530.7 216.5 530.6C220.4 530.4 224.6 531.0 229.1 531.3C233.6 531.7 240.9 531.5 243.3 532.9C245.7 534.4 245.7 539.0 243.3 540.0C240.9 541.1 233.6 539.5 229.1 539.2C224.6 539.0 220.1 539.0 216.5 538.5C212.8 537.9 208.8 537.1 207.0 536.1C205.1 535.0 203.8 533.1 205.4 532.1Z" fill="#e6a88e"/>
<path d="M218.0 534.5C220.0 534.2 228.4 534.8 230.7 535.3C232.9 535.8 233.4 537.1 231.5 537.3C229.5 537.6 221.1 537.3 218.8 536.9C216.6 536.4 216.1 534.8 218.0 534.5Z" fill="#dc7a5e"/>
<path d="M194.3 523.8C194.7 523.2 198.0 523.6 199.1 524.2C200.2 524.8 201.4 526.8 201.0 527.4C200.6 528.0 197.8 528.5 196.7 527.9C195.6 527.3 194.0 524.4 194.3 523.8Z" fill="#fdf1ea"/>
<path d="M204.6 521.9C205.4 521.1 210.1 520.9 211.7 521.6C213.4 522.2 215.4 525.0 214.6 525.8C213.8 526.6 208.6 527.0 207.0 526.3C205.3 525.6 203.8 522.7 204.6 521.9Z" fill="#fdf1ea"/>
<path d="M191.2 544.8C192.0 541.6 193.3 545.0 195.9 544.0C198.6 542.9 203.6 539.0 207.0 538.5C210.4 537.9 213.3 540.2 216.5 540.8C219.6 541.4 221.5 541.6 225.9 542.1C230.4 542.6 240.4 540.2 243.3 543.7C246.2 547.1 252.0 559.7 243.3 562.9C234.6 566.2 199.9 566.0 191.2 562.9C182.5 559.9 190.4 547.9 191.2 544.8Z" fill="#ffffff"/>
</g>
<g clip-path="url(#w9)">
<path d="M236.8 461.8C242.0 459.5 262.4 459.7 267.6 461.8C272.9 463.9 269.0 471.8 268.1 474.5C267.2 477.1 264.2 476.7 262.1 477.6C260.1 478.6 258.4 479.9 255.8 480.0C253.2 480.1 249.5 479.1 246.3 478.4C243.2 477.8 238.4 478.8 236.8 476.1C235.3 473.3 231.7 464.2 236.8 461.8Z" fill="#f3d8cc"/>
<path d="M266.9 461.8C272.0 460.3 294.0 460.3 298.4 461.8C302.9 463.4 295.0 468.4 293.7 471.3C292.4 474.2 291.9 476.8 290.6 479.2C289.2 481.6 287.1 483.4 285.8 485.5C284.5 487.6 283.7 489.7 282.7 491.9C281.6 494.0 280.0 495.0 279.5 498.2C279.0 501.3 279.0 507.3 279.5 510.8C280.0 514.4 282.9 518.1 282.7 519.5C282.4 520.9 279.8 520.4 277.9 519.5C276.1 518.6 273.0 517.0 271.6 514.0C270.1 510.9 269.8 506.3 269.2 501.3C268.7 496.3 268.7 489.0 268.4 484.0C268.2 479.0 267.9 475.0 267.6 471.3C267.4 467.6 261.7 463.4 266.9 461.8Z" fill="#dc7a5e"/>
<path d="M285.8 485.5C287.7 482.9 290.8 479.5 293.7 477.6C296.6 475.8 300.3 474.5 303.2 474.5C306.1 474.5 308.7 476.1 311.1 477.6C313.5 479.2 315.6 481.3 317.4 484.0C319.2 486.6 321.6 490.5 322.1 493.4C322.7 496.3 322.1 499.4 320.6 501.3C319.0 503.3 315.6 504.2 312.7 505.3C309.8 506.3 306.3 507.4 303.2 507.7C300.0 507.9 296.6 507.9 293.7 506.9C290.8 505.8 287.7 503.6 285.8 501.3C284.0 499.1 282.7 496.1 282.7 493.4C282.7 490.8 284.0 488.2 285.8 485.5Z" fill="#dc7a5e"/>
<path d="M287.4 488.7C287.9 487.1 291.6 486.7 293.7 487.1C295.8 487.5 298.2 489.7 300.0 491.1C301.9 492.4 304.5 493.7 304.8 495.0C305.0 496.3 303.2 498.0 301.6 499.0C300.0 499.9 297.1 500.9 295.3 500.5C293.4 500.1 291.9 498.6 290.6 496.6C289.2 494.6 286.9 490.3 287.4 488.7Z" fill="#d04a3a"/>
<path d="M337.9 485.5C338.5 483.4 341.4 481.1 344.3 480.0C347.2 479.0 353.5 476.3 355.3 479.2C357.2 482.1 356.6 494.5 355.3 497.4C354.0 500.3 349.8 497.4 347.4 496.6C345.0 495.8 342.7 494.5 341.1 492.6C339.5 490.8 337.4 487.6 337.9 485.5Z" fill="#dc7a5e"/>
<path d="M236.8 498.2C238.4 491.2 243.2 497.9 246.3 499.0C249.5 500.0 252.4 502.5 255.8 504.5C259.2 506.5 264.2 509.0 266.9 510.8C269.5 512.7 269.5 514.0 271.6 515.6C273.7 517.1 277.1 520.0 279.5 520.3C281.9 520.6 283.7 518.4 285.8 517.1C287.9 515.8 289.2 513.6 292.1 512.4C295.0 511.2 299.5 510.7 303.2 510.0C306.9 509.4 311.3 508.0 314.2 508.4C317.1 508.8 319.2 510.7 320.6 512.4C321.9 514.1 322.7 516.6 322.1 518.7C321.6 520.8 320.0 523.2 317.4 525.0C314.8 526.9 309.8 528.5 306.3 529.8C302.9 531.1 300.0 531.9 296.9 532.9C293.7 534.0 290.8 535.0 287.4 536.1C284.0 537.1 279.5 538.5 276.3 539.2C273.2 540.0 271.9 540.3 268.4 540.8C265.0 541.4 261.1 542.4 255.8 542.4C250.5 542.4 240.0 548.2 236.8 540.8C233.7 533.5 235.3 505.2 236.8 498.2Z" fill="#f3d8cc"/>
<path d="M285.8 520.3C286.6 518.3 289.2 517.1 292.1 516.3C295.0 515.6 300.8 515.0 303.2 515.6C305.6 516.1 306.3 517.8 306.3 519.5C306.3 521.2 305.0 524.1 303.2 525.8C301.3 527.5 297.9 529.4 295.3 529.8C292.7 530.2 289.0 529.8 287.4 528.2C285.8 526.6 285.0 522.3 285.8 520.3Z" fill="#fdf1ea"/>
<path d="M333.2 510.8C332.9 508.7 334.8 505.9 336.4 504.5C337.9 503.0 340.6 501.9 342.7 502.1C344.8 502.4 347.8 503.8 349.0 506.1C350.2 508.3 350.3 513.2 349.8 515.6C349.3 517.9 347.8 520.0 345.8 520.3C343.9 520.6 340.0 518.7 337.9 517.1C335.8 515.6 333.5 512.9 333.2 510.8Z" fill="#f3d8cc"/>
<path d="M277.9 542.4C278.2 541.1 281.6 539.0 284.2 537.7C286.9 536.3 290.6 536.1 293.7 534.5C296.9 532.9 300.0 529.6 303.2 528.2C306.3 526.7 309.0 526.3 312.7 525.8C316.4 525.3 321.1 525.3 325.3 525.0C329.5 524.8 335.3 523.7 337.9 524.2C340.6 524.8 342.7 526.7 341.1 528.2C339.5 529.6 331.6 531.1 328.5 532.9C325.3 534.8 324.5 537.4 322.1 539.2C319.8 541.1 317.4 543.1 314.2 544.0C311.1 544.9 306.9 544.5 303.2 544.8C299.5 545.0 295.6 545.4 292.1 545.6C288.7 545.7 285.0 546.1 282.7 545.6C280.3 545.0 277.6 543.7 277.9 542.4Z" fill="#dc7a5e"/>
<path d="M303.2 532.9C304.0 531.3 306.9 530.2 309.5 529.8C312.1 529.4 316.9 529.8 319.0 530.6C321.1 531.3 322.4 532.8 322.1 534.5C321.9 536.2 319.5 539.5 317.4 540.8C315.3 542.1 311.6 542.7 309.5 542.4C307.4 542.1 305.8 540.8 304.8 539.2C303.7 537.7 302.4 534.5 303.2 532.9Z" fill="#d04a3a"/>
<path d="M307.9 534.5C308.5 533.2 312.4 532.8 314.2 532.9C316.1 533.1 318.6 534.1 319.0 535.3C319.4 536.5 317.9 539.1 316.6 540.0C315.3 541.0 312.5 541.7 311.1 540.8C309.6 539.9 307.4 535.8 307.9 534.5Z" fill="#b81424"/>
<path d="M236.8 547.1C238.9 544.1 245.3 545.3 249.5 544.8C253.7 544.2 258.4 543.7 262.1 544.0C265.8 544.2 268.4 545.8 271.6 546.4C274.8 546.9 277.6 547.1 281.1 547.1C284.5 547.1 288.4 546.6 292.1 546.4C295.8 546.1 299.5 545.8 303.2 545.6C306.9 545.3 311.1 545.7 314.2 544.8C317.4 543.9 319.8 541.7 322.1 540.0C324.5 538.3 325.8 535.8 328.5 534.5C331.1 533.2 333.5 532.7 337.9 532.1C342.4 531.6 352.4 526.2 355.3 531.3C358.2 536.5 375.1 557.7 355.3 562.9C335.6 568.2 256.6 565.6 236.8 562.9C217.1 560.3 234.7 550.2 236.8 547.1Z" fill="#ffffff"/>
</g>
<g clip-path="url(#w10)">
<path d="M367.8 461.8C371.6 460.8 387.7 460.5 391.5 461.8C395.3 463.2 391.5 467.1 390.7 469.7C389.9 472.4 388.7 475.4 386.8 477.6C384.8 479.9 381.1 482.1 378.9 483.2C376.6 484.2 374.6 485.1 373.3 484.0C372.0 482.8 371.7 478.7 371.0 476.1C370.2 473.4 369.1 470.5 368.6 468.2C368.1 465.8 364.0 462.9 367.8 461.8Z" fill="#dc7a5e"/>
<path d="M374.1 484.0C374.9 483.2 378.1 484.9 380.4 484.0C382.8 483.0 385.7 479.5 388.3 478.4C391.0 477.4 394.1 477.1 396.2 477.6C398.3 478.2 400.7 480.0 401.0 481.6C401.2 483.2 399.9 485.9 397.8 487.1C395.7 488.3 391.2 487.9 388.3 488.7C385.4 489.5 382.5 491.9 380.4 491.9C378.3 491.9 376.7 490.0 375.7 488.7C374.6 487.4 373.3 484.7 374.1 484.0Z" fill="#f3d8cc"/>
<path d="M348.8 480.0C350.4 476.3 355.4 480.9 358.3 482.4C361.2 483.8 363.8 486.6 366.2 488.7C368.6 490.8 369.6 494.0 372.5 495.0C375.4 496.1 379.6 495.3 383.6 495.0C387.5 494.8 392.0 493.6 396.2 493.4C400.4 493.3 405.4 493.4 408.9 494.2C412.3 495.0 415.6 496.3 416.8 498.2C418.0 500.0 417.3 503.4 416.0 505.3C414.7 507.1 412.2 508.8 408.9 509.2C405.6 509.6 400.4 508.4 396.2 507.7C392.0 506.9 387.5 505.0 383.6 504.5C379.6 504.0 376.2 504.5 372.5 504.5C368.9 504.5 365.4 504.5 361.5 504.5C357.5 504.5 350.9 508.6 348.8 504.5C346.7 500.4 347.3 483.7 348.8 480.0Z" fill="#dc7a5e"/>
<path d="M438.1 480.8C438.1 478.6 440.9 476.6 443.6 475.3C446.4 474.0 450.7 473.6 454.7 472.9C458.6 472.2 465.2 467.8 467.3 471.3C469.4 474.9 469.4 490.5 467.3 494.2C465.2 497.9 458.6 494.4 454.7 493.4C450.7 492.5 446.4 490.8 443.6 488.7C440.9 486.6 438.1 483.0 438.1 480.8Z" fill="#dc7a5e"/>
<path d="M374.1 523.4C374.5 521.6 375.4 518.4 377.3 517.1C379.1 515.8 382.8 515.0 385.2 515.6C387.5 516.1 388.6 518.7 391.5 520.3C394.4 521.9 401.2 523.7 402.6 525.0C403.9 526.3 401.5 527.4 399.4 528.2C397.3 529.0 393.1 529.2 389.9 529.8C386.8 530.3 382.9 531.6 380.4 531.3C377.9 531.1 376.0 529.5 374.9 528.2C373.9 526.9 373.7 525.3 374.1 523.4Z" fill="#dc7a5e"/>
<path d="M383.6 536.1C383.6 534.8 389.6 533.7 393.1 532.9C396.5 532.1 400.4 531.7 404.1 531.3C407.8 531.0 410.7 530.8 415.2 530.6C419.7 530.3 426.8 530.2 431.0 529.8C435.2 529.4 436.8 528.2 440.5 528.2C444.1 528.2 448.6 529.2 453.1 529.8C457.6 530.3 464.9 529.8 467.3 531.3C469.7 532.9 469.7 538.1 467.3 539.2C464.9 540.4 457.6 538.5 453.1 538.5C448.6 538.5 444.1 539.0 440.5 539.2C436.8 539.5 435.2 539.5 431.0 540.0C426.8 540.6 419.7 542.5 415.2 542.4C410.7 542.3 407.8 539.5 404.1 539.2C400.4 539.0 396.5 541.4 393.1 540.8C389.6 540.3 383.6 537.4 383.6 536.1Z" fill="#dc7a5e"/>
<path d="M404.1 535.6C406.0 535.2 410.7 535.5 415.2 535.3C419.7 535.1 426.8 534.5 431.0 534.2C435.2 533.9 436.8 533.7 440.5 533.7C444.1 533.8 448.6 534.3 453.1 534.5C457.6 534.7 464.9 534.7 467.3 535.1C469.7 535.6 471.8 536.8 467.3 537.2C462.8 537.5 449.2 536.8 440.5 537.2C431.8 537.6 421.2 539.4 415.2 539.6C409.1 539.7 406.0 538.6 404.1 538.0C402.3 537.3 402.3 536.1 404.1 535.6Z" fill="#d04a3a"/>
<path d="M348.8 526.6C350.4 525.3 355.9 525.8 358.3 526.6C360.7 527.4 363.1 529.9 363.1 531.3C363.1 532.8 360.7 534.8 358.3 535.3C355.9 535.8 350.4 536.0 348.8 534.5C347.3 533.1 347.3 527.9 348.8 526.6Z" fill="#f3d8cc"/>
<path d="M453.1 523.4C453.1 522.1 457.0 520.4 459.4 519.5C461.8 518.6 466.0 516.5 467.3 517.9C468.6 519.4 468.6 526.6 467.3 528.2C466.0 529.8 461.8 528.2 459.4 527.4C457.0 526.6 453.1 524.8 453.1 523.4Z" fill="#f3d8cc"/>
<path d="M348.8 534.5C350.9 529.8 357.5 534.2 361.5 534.5C365.4 534.8 368.9 535.3 372.5 536.1C376.2 536.9 379.4 538.9 383.6 539.2C387.8 539.6 394.4 538.3 397.8 538.5C401.2 538.6 402.0 538.6 404.1 540.0C406.2 541.5 408.6 547.0 410.4 547.1C412.3 547.3 412.6 542.6 415.2 541.1C417.8 539.7 422.0 538.9 426.2 538.3C430.5 537.7 436.0 537.7 440.5 537.5C444.9 537.3 448.6 537.2 453.1 537.0C457.6 536.9 464.9 532.2 467.3 536.6C469.7 540.9 487.1 558.5 467.3 562.9C447.6 567.3 368.6 567.7 348.8 562.9C329.1 558.2 346.7 539.2 348.8 534.5Z" fill="#ffffff"/>
</g>
<g clip-path="url(#w11)">
<path d="M487.7 460.3C495.4 458.4 524.8 458.4 532.2 460.3C539.7 462.1 532.8 467.9 532.2 471.3C531.7 474.7 530.1 478.2 528.8 480.8C527.4 483.4 525.6 485.3 524.0 487.1C522.4 489.0 520.6 490.3 519.3 491.9C518.0 493.4 517.2 495.4 516.1 496.6C515.1 497.8 513.8 499.8 513.0 499.0C512.2 498.2 512.2 494.1 511.4 491.9C510.6 489.6 509.5 487.6 508.2 485.5C506.9 483.4 505.6 480.0 503.5 479.2C501.4 478.4 498.2 480.0 495.6 480.8C493.0 481.6 489.5 484.0 487.7 484.0C485.9 484.0 485.3 482.9 485.0 480.8C484.7 478.7 485.7 474.7 486.1 471.3C486.6 467.9 480.0 462.1 487.7 460.3Z" fill="#dc7a5e"/>
<path d="M516.1 496.6C517.2 494.0 521.7 489.5 524.0 487.1C526.4 484.7 528.5 482.1 530.3 482.4C532.2 482.6 533.8 486.6 535.1 488.7C536.4 490.8 538.5 492.9 538.2 495.0C538.0 497.1 535.9 499.9 533.5 501.3C531.1 502.8 526.7 503.4 524.0 503.7C521.4 504.0 519.0 504.1 517.7 502.9C516.4 501.7 515.1 499.2 516.1 496.6Z" fill="#dc7a5e"/>
<path d="M533.5 504.5C534.3 503.3 537.5 500.8 539.8 499.0C542.2 497.1 545.6 495.7 547.7 493.4C549.8 491.2 551.3 486.3 552.5 485.5C553.6 484.7 555.4 486.9 554.8 488.7C554.3 490.5 551.5 494.2 549.3 496.6C547.1 499.0 543.8 501.3 541.4 502.9C539.0 504.5 536.4 505.8 535.1 506.1C533.8 506.3 532.7 505.7 533.5 504.5Z" fill="#dc7a5e"/>
<path d="M460.8 471.3C462.4 467.9 467.8 470.8 470.3 472.1C472.8 473.4 475.1 476.7 475.8 479.2C476.6 481.7 476.2 485.0 475.1 487.1C473.9 489.2 471.1 490.9 468.7 491.9C466.4 492.8 462.2 496.1 460.8 492.6C459.5 489.2 459.3 474.7 460.8 471.3Z" fill="#dc7a5e"/>
<path d="M460.8 517.1C463.5 515.4 472.2 517.9 476.6 517.1C481.1 516.3 484.5 514.0 487.7 512.4C490.9 510.8 493.9 507.7 495.6 507.7C497.3 507.7 497.2 510.3 498.0 512.4C498.8 514.5 498.1 518.2 500.3 520.3C502.6 522.4 508.8 524.8 511.4 525.0C514.0 525.3 513.5 523.2 516.1 521.9C518.8 520.6 524.6 517.7 527.2 517.1C529.8 516.6 531.9 517.4 531.9 518.7C531.9 520.0 529.8 523.4 527.2 525.0C524.6 526.6 521.4 527.7 516.1 528.2C510.9 528.7 504.8 528.3 495.6 528.2C486.4 528.1 466.6 529.2 460.8 527.4C455.0 525.6 458.2 518.8 460.8 517.1Z" fill="#f3d8cc"/>
<path d="M460.8 529.0C464.0 528.2 474.0 529.9 479.8 529.8C485.6 529.6 490.3 528.3 495.6 528.2C500.9 528.1 507.2 528.6 511.4 529.0C515.6 529.4 519.6 529.6 520.9 530.6C522.2 531.5 522.2 533.8 519.3 534.5C516.4 535.2 508.8 534.4 503.5 534.5C498.2 534.6 493.0 535.3 487.7 535.3C482.4 535.3 476.4 534.6 471.9 534.5C467.4 534.4 462.7 535.4 460.8 534.5C459.0 533.6 457.7 529.8 460.8 529.0Z" fill="#dc7a5e"/>
<path d="M473.5 532.1C474.8 531.7 482.7 531.6 487.7 531.3C492.7 531.1 498.8 530.6 503.5 530.6C508.2 530.6 514.3 530.8 516.1 531.3C518.0 531.9 518.0 533.3 514.6 533.7C511.1 534.1 501.4 533.6 495.6 533.7C489.8 533.8 483.5 534.5 479.8 534.2C476.1 533.9 472.2 532.6 473.5 532.1Z" fill="#d04a3a"/>
<path d="M460.8 534.5C462.7 529.3 467.8 534.6 471.7 534.8C475.6 535.1 480.8 535.4 484.2 536.1C487.7 536.8 489.7 538.2 492.4 538.9C495.1 539.7 497.2 540.5 500.3 540.5C503.5 540.6 508.0 540.1 511.4 539.2C514.8 538.4 517.4 536.3 520.9 535.3C524.3 534.2 530.1 527.8 531.9 532.9C533.8 538.1 543.8 560.6 531.9 566.1C520.1 571.6 472.7 571.4 460.8 566.1C449.0 560.8 459.0 539.7 460.8 534.5Z" fill="#ffffff"/>
<path d="M500.3 535.6C504.0 535.0 514.6 534.2 517.7 534.5C520.9 534.8 520.3 536.5 519.3 537.3C518.2 538.2 514.3 539.3 511.4 539.9C508.5 540.5 504.5 541.1 501.9 540.8C499.3 540.6 495.9 539.3 495.6 538.5C495.3 537.6 496.6 536.3 500.3 535.6Z" fill="#f3d8cc"/>
</g>
<g clip-path="url(#w12)">
<path d="M235.6 373.3C236.3 372.1 237.0 370.8 238.5 370.0C240.0 369.2 242.5 368.6 244.3 368.3C246.1 368.1 247.8 368.0 249.3 368.3C250.9 368.7 252.5 369.3 253.5 370.4C254.5 371.5 254.6 373.7 255.2 375.0C255.7 376.3 257.2 377.6 256.8 378.3C256.4 379.1 253.9 379.2 252.7 379.6C251.4 380.0 250.6 380.3 249.3 380.8C248.1 381.4 246.3 382.2 245.2 382.9C244.1 383.6 243.4 384.2 242.7 385.0C242.0 385.8 242.0 387.5 241.0 387.9C240.0 388.3 237.9 388.3 236.8 387.5C235.8 386.7 235.2 385.0 234.8 383.3C234.3 381.7 234.2 379.2 234.3 377.5C234.5 375.8 234.9 374.6 235.6 373.3Z" fill="#f3d8cc"/>
<path d="M246.8 370.0C247.0 369.0 249.1 369.0 250.2 369.2C251.2 369.3 252.4 369.9 253.1 370.8C253.8 371.8 254.2 373.8 254.3 375.0C254.5 376.2 254.5 377.4 253.9 377.9C253.4 378.5 251.8 378.8 251.0 378.3C250.2 377.8 249.6 376.4 248.9 375.0C248.2 373.6 246.6 371.0 246.8 370.0Z" fill="#fdf1ea"/>
<path d="M257.2 373.3C256.9 372.4 257.3 369.7 257.7 368.3C258.0 366.9 258.7 365.8 259.3 365.0C260.0 364.2 261.0 363.5 261.4 363.8C261.8 364.0 261.9 365.5 261.8 366.7C261.8 367.8 261.3 369.7 261.0 370.8C260.7 372.0 260.4 373.3 259.8 373.8C259.1 374.2 257.6 374.2 257.2 373.3Z" fill="#f3d8cc"/>
</g>
<g clip-path="url(#w13)">
<path d="M383.0 342.5C383.5 341.4 385.3 339.9 386.8 339.4C388.2 338.9 390.5 338.9 391.8 339.4C393.0 339.9 393.5 341.4 394.2 342.5C395.0 343.6 396.3 345.3 396.1 346.2C395.9 347.2 394.6 347.8 393.0 348.1C391.4 348.4 388.3 348.4 386.8 348.1C385.2 347.8 384.2 347.2 383.6 346.2C383.0 345.3 382.5 343.6 383.0 342.5Z" fill="#dc7a5e"/>
<path d="M404.2 340.0C404.9 339.2 407.2 338.1 408.0 338.8C408.8 339.4 408.7 342.1 409.2 343.8C409.8 345.4 410.7 347.1 411.1 348.8C411.5 350.4 412.2 352.8 411.8 353.8C411.3 354.7 409.6 355.2 408.6 354.4C407.7 353.5 406.9 350.5 406.1 348.8C405.4 347.0 404.6 345.2 404.2 343.8C403.9 342.3 403.6 340.8 404.2 340.0Z" fill="#e6a88e"/>
</g>
<g clip-path="url(#w14)">
<path d="M484.6 430.0C485.1 428.9 487.2 429.4 489.0 429.4C490.8 429.4 493.6 431.4 495.2 430.0C496.9 428.6 498.6 424.4 499.0 421.2C499.4 418.1 497.5 414.0 497.8 411.2C498.0 408.5 499.6 404.8 500.2 405.0C500.9 405.2 501.1 410.2 501.5 412.5C501.9 414.8 501.7 417.5 502.8 418.8C503.8 420.0 506.3 420.0 507.8 420.0C509.2 420.0 510.0 418.8 511.5 418.8C513.0 418.8 515.2 418.8 516.5 420.0C517.8 421.2 518.8 424.4 519.0 426.2C519.2 428.1 517.8 429.6 517.8 431.2C517.8 432.9 518.0 435.0 519.0 436.2C520.0 437.5 523.4 437.7 524.0 438.8C524.6 439.8 524.0 442.1 522.8 442.5C521.5 442.9 518.4 441.2 516.5 441.2C514.6 441.2 513.2 442.5 511.5 442.5C509.8 442.5 508.2 441.9 506.5 441.2C504.8 440.6 503.4 439.0 501.5 438.8C499.6 438.5 496.7 439.0 495.2 440.0C493.8 441.0 494.0 444.0 492.8 445.0C491.5 446.0 489.0 446.7 487.8 446.2C486.5 445.8 485.6 444.2 485.2 442.5C484.9 440.8 486.0 438.3 485.9 436.2C485.8 434.2 484.1 431.1 484.6 430.0Z" fill="#f3d8cc"/>
<path d="M484.6 421.2C485.1 419.6 487.4 417.9 489.0 416.2C490.6 414.6 492.7 411.7 494.0 411.2C495.3 410.8 496.5 412.1 496.8 413.8C497.0 415.4 495.7 418.9 495.2 421.2C494.8 423.6 495.0 426.9 494.0 428.1C493.0 429.4 490.4 429.1 489.0 428.8C487.6 428.4 486.6 427.5 485.9 426.2C485.1 425.0 484.1 422.9 484.6 421.2Z" fill="#dc7a5e"/>
<path d="M516.5 428.8C516.6 427.2 518.6 425.7 520.2 425.6C521.9 425.5 524.6 427.0 526.5 428.1C528.4 429.3 530.2 430.5 531.5 432.5C532.8 434.5 534.4 439.0 534.0 440.0C533.6 441.0 530.7 439.1 529.0 438.8C527.3 438.4 525.6 438.8 524.0 438.1C522.4 437.5 520.9 436.6 519.6 435.0C518.4 433.4 516.4 430.3 516.5 428.8Z" fill="#dc7a5e"/>
</g>
<g clip-path="url(#w15)">
<path d="M504.4 452.2C505.0 451.2 507.0 450.6 508.8 451.0C510.5 451.4 513.3 453.3 515.0 454.8C516.7 456.2 518.5 458.3 518.8 459.8C519.0 461.2 517.5 462.5 516.2 463.5C515.0 464.5 512.5 466.4 511.2 466.0C510.0 465.6 509.8 462.5 508.8 461.0C507.7 459.5 505.7 458.7 505.0 457.2C504.3 455.8 503.8 453.3 504.4 452.2Z" fill="#e6a88e"/>
</g>
<path d="M389.1 368.8L390.5 372.4L390.9 373.9L392.3 377.9L393.4 379.8L395.1 383.3L395.5 385.1L395.6 387.6L397.3 390.5L398.7 394.8L400.3 396.5L402.6 399.5L403.5 400.4L403.3 402.1L403.8 402.6L405.7 404.2L407.5 403.5L409.3 402.8L411.1 402.6L413.1 401.7L413.2 404.2L411.8 408.6L410.7 412.2L408.9 415.8L406.3 419.4L403.1 423.0L401.6 426.1L400.2 427.5L399.4 430.2L398.7 432.0L399.0 435.3L398.9 438.3L399.4 441.1L400.2 442.0L400.2 445.6L400.3 449.2L400.2 450.1L399.0 452.8L397.4 454.2L395.5 455.5L394.2 457.3L392.9 458.7L393.1 460.9L393.3 462.7L393.2 466.3L390.8 468.1L389.7 469.9L389.9 471.7L389.1 474.5L387.3 477.0L385.4 479.9L383.4 482.6L380.7 484.4L378.7 484.7L375.8 485.1L374.0 485.8L372.3 484.9L371.8 482.6L372.1 479.9L370.7 475.4L370.4 474.6L368.9 471.0L368.2 467.2L368.3 464.3L367.2 460.9L366.0 457.3L365.2 454.2L365.6 450.4L366.6 446.5L367.4 445.4L367.8 442.3L366.8 439.2L366.7 436.5L366.0 433.8L365.4 431.7L364.2 429.3L362.6 426.6L361.7 424.3L362.5 422.3L362.7 421.2L363.0 418.8L362.8 416.7L362.6 415.8L361.4 414.9L359.5 415.2L358.3 415.2L357.1 413.1L355.1 411.4L352.8 411.8L351.0 412.7L348.6 414.0L346.1 413.6L343.7 414.5L341.7 415.1L339.4 413.1L337.8 411.6L335.8 409.5L334.9 407.7L334.3 405.8L333.0 403.5L332.1 401.5L330.8 400.6L330.8 398.6L329.8 396.5L331.1 394.1L331.8 390.5L331.2 388.0L330.6 385.4L330.7 384.5L332.1 380.2L333.8 375.9L335.8 372.6L337.8 371.2L339.8 368.1L339.6 366.1L341.0 363.4L342.2 362.3L343.1 361.6L344.2 358.4L347.7 359.4L350.3 358.5L354.5 356.6L356.8 356.6L359.9 356.4L362.2 355.7L363.5 356.0L363.1 357.3L363.4 360.4L362.7 361.8L363.7 362.0L366.3 363.6L368.5 364.5L370.4 366.7L373.2 368.3L374.4 367.4L374.4 365.0L376.2 363.6L377.2 363.8L378.9 365.0L380.4 365.9L382.7 366.3L385.9 366.7L387.1 366.1L388.7 366.5L390.5 366.9L391.1 366.1L391.6 363.8L392.0 361.8L392.3 360.0L392.1 358.9L392.1 357.6L392.4 356.9L391.0 356.6L389.4 357.8L387.6 357.1L386.0 356.4L385.8 357.6L384.8 357.6L383.3 356.7L382.3 356.2L381.0 353.7L380.5 351.7L380.5 350.8L380.2 349.7L379.0 349.2L378.3 349.2L377.7 350.5L376.7 349.9L376.8 351.7L377.2 352.6L378.3 354.4L377.1 354.6L377.5 355.5L377.0 357.1L375.8 356.6L375.1 354.9L375.4 353.9L374.5 352.8L373.5 351.3L372.8 349.9L372.8 348.5L372.4 347.2L371.5 346.3L369.2 344.6L367.7 343.5L366.9 341.9L366.7 341.4L366.2 342.1L365.9 340.8L364.5 341.2L364.5 342.8L365.9 344.4L366.8 346.5L368.9 347.4L369.9 348.8L371.2 349.7L371.8 350.8L370.1 350.1L369.7 351.7L370.3 352.6L368.8 354.4L369.3 352.8L368.5 350.8L367.0 349.4L366.1 348.7L364.7 347.6L363.3 346.3L362.4 344.6L361.8 343.5L360.8 343.0L359.4 344.0L359.0 344.2L357.6 345.3L357.0 344.9L355.4 344.7L354.4 345.1L354.4 346.3L354.6 347.4L353.5 348.3L351.9 349.6L350.7 351.7L351.2 353.1L350.1 355.1L348.5 356.7L346.0 356.7L344.8 357.8L343.8 357.1L343.0 355.8L340.8 356.2L340.4 353.1L341.0 350.5L341.3 348.7L340.7 345.6L342.4 344.2L344.7 344.6L346.8 344.7L349.0 344.9L349.7 342.6L349.7 340.8L349.7 339.8L348.6 338.0L346.4 336.9L345.9 335.9L347.8 335.2L349.3 335.5L349.0 333.6L349.8 334.1L350.8 334.3L351.1 334.0L352.6 332.9L352.8 331.5L354.4 330.8L355.3 329.6L355.9 327.9L357.2 327.2L359.3 327.0L359.9 326.3L359.8 324.8L359.2 323.6L359.5 321.1L361.6 319.9L361.4 321.9L360.9 323.6L361.1 324.8L361.4 325.6L362.2 326.2L363.8 325.5L365.2 326.0L367.9 325.3L369.7 324.8L370.2 325.5L371.4 325.0L372.4 323.3L372.1 321.1L372.8 320.0L374.9 321.1L375.2 318.7L375.2 317.0L378.4 317.0L380.5 316.2L378.6 315.1L375.3 315.7L373.5 316.4L372.3 315.2L371.7 313.6L371.4 311.0L373.7 308.7L374.6 307.9L373.5 306.7L371.5 307.1L370.1 309.8L367.5 312.1L367.7 314.9L368.8 317.2L367.6 318.4L367.5 321.1L367.1 322.4L365.7 322.7L365.0 323.8L364.2 323.4L363.9 321.9L362.8 319.9L361.8 317.7L361.4 316.2L360.8 317.7L358.9 319.2L357.5 319.2L356.6 317.7L356.1 315.4L355.8 312.8L359.0 310.5L360.4 309.5L362.3 307.1L364.0 304.3L365.3 302.6L367.7 300.6L371.6 299.1L373.3 298.4L378.1 299.6L377.5 300.6L380.7 301.4L382.4 301.2L386.6 303.2L388.4 304.8L387.2 306.0L383.9 305.6L381.0 305.3L382.7 306.4L383.3 307.9L386.1 309.5L388.1 308.7L387.9 307.1L389.8 305.6L391.4 306.4L390.6 303.7L389.6 302.5L392.8 303.5L394.7 303.7L397.5 302.6L399.8 302.8L402.5 301.9L404.3 300.6L408.8 302.0L411.9 301.9L409.6 300.2L408.7 297.9L410.1 295.8L413.4 297.9L415.6 301.7L415.6 305.1L417.9 305.3L417.0 302.5L415.1 298.7L414.8 296.5L418.2 297.9L419.9 297.2L418.6 295.0L423.5 294.9L423.4 292.5L427.9 291.5L431.7 291.2L433.2 289.2L436.7 290.5L443.6 292.2L443.1 294.7L447.2 294.7L452.4 295.8L458.4 295.9L463.0 297.9L468.0 298.7L470.4 296.8L475.2 296.5L481.1 297.9L485.5 298.8L492.9 300.8L498.9 300.6L501.0 300.2L505.6 300.3L510.9 301.9 M517.9 307.9L516.1 308.4L520.7 311.1L521.7 312.3L518.2 313.6L517.0 316.0L512.8 316.0L511.7 317.7L513.1 319.7L515.7 322.4L516.3 325.3L516.7 327.9L515.8 331.3L513.4 328.7L509.6 324.4L508.1 321.1L507.9 319.4L509.2 316.9L508.9 314.4L507.5 311.9L504.7 313.6L501.9 315.2L500.1 317.2L496.8 317.4L491.4 317.0L490.5 319.4L489.9 321.9L489.2 325.0L496.0 327.0L497.1 327.5L498.5 330.5L500.6 334.8L500.8 339.2L500.2 342.8L497.0 345.3L496.2 346.7L495.7 348.1L495.0 350.8L495.0 352.2L497.1 354.4L499.4 358.0L499.5 359.6L498.0 360.7L496.7 360.9L496.1 358.0L495.1 355.3L493.0 354.4L492.3 351.7L491.0 351.2L488.6 352.6L488.0 349.6L486.0 350.8L484.2 352.6L485.6 354.4L486.7 355.8L488.3 354.8L490.6 355.5L488.9 357.8L488.3 359.8L489.8 361.1L491.6 364.3L492.9 365.8L493.4 367.2L492.4 368.3L494.0 368.8L493.6 372.4L492.7 376.1L491.4 378.8L490.1 380.9L487.4 382.7L484.8 383.5L483.1 384.7L483.0 386.3L481.9 384.2L480.1 384.0L478.8 385.3L477.9 388.7L479.3 391.4L481.5 393.9L483.1 397.7L483.4 401.0L482.5 403.1L481.1 404.2L480.4 405.8L478.5 407.5L478.6 404.9L476.7 403.9L476.0 402.1L474.0 400.1L472.7 398.6L472.2 400.4L471.5 404.0L472.0 406.4L472.9 407.8L473.5 410.0L475.5 411.8L476.6 413.4L477.0 416.1L477.6 418.5L478.2 420.5L477.3 420.7L475.7 419.0L474.6 417.6L473.7 415.4L473.2 413.3L472.9 411.3L470.7 408.7L470.7 405.8L470.8 404.9L470.5 400.6L469.7 397.7L468.7 393.2L467.7 392.3L467.1 393.2L466.0 394.5L464.8 394.1L464.8 391.4L463.7 389.1L462.4 386.7L461.0 384.2L460.6 382.7L459.0 382.4L458.0 383.6L456.2 384.0L455.0 384.2L454.9 386.3L453.9 387.3L452.1 390.0L451.2 391.0L449.3 393.6L448.7 394.7L447.9 397.7L448.3 399.3L447.9 403.1L448.0 404.4L447.0 406.2L445.3 408.4L444.0 406.8L443.6 404.9L443.0 402.6L441.6 399.7L440.1 395.2L439.3 392.3L438.4 388.7L438.2 386.0L437.9 384.7L437.6 382.7L436.6 385.1L435.9 385.6L434.2 384.0L433.4 382.7L434.9 381.8L433.3 381.5L432.2 380.2L431.0 379.1L430.6 378.2L429.9 377.1L427.6 377.5L425.0 377.7L422.9 377.3L419.8 376.8L418.5 375.2L417.6 374.1L415.5 375.0L413.6 374.3L411.7 372.8L410.7 370.8L409.1 368.8L407.8 368.8L407.3 369.9L408.4 372.4L409.6 374.3L410.4 375.5L411.1 377.3L411.4 378.2L411.7 375.9L412.3 378.0L412.9 379.3L414.1 379.7L415.7 378.8L416.6 377.3L417.8 375.3L417.9 377.3L418.4 379.1L420.8 380.4L422.4 382.2L421.4 385.1L421.1 386.0L420.3 388.7L419.0 390.5L416.2 392.3L414.9 393.0L414.0 394.8L410.4 396.8L407.3 398.8L405.5 399.9L403.7 400.1L403.3 399.0L402.9 396.3L402.3 392.5L400.3 388.5L397.9 384.2L396.3 379.5L394.2 375.7L392.5 372.4L391.8 372.4L392.1 369.7L391.3 372.8L389.2 369.0 M383.6 349.0L386.1 348.7L388.1 347.2L390.1 347.2L391.6 348.5L393.5 349.0L395.4 349.0L397.4 347.9L397.4 346.9L396.4 345.4L394.8 344.4L392.4 342.6L391.0 341.5L391.8 341.4L392.4 340.1L393.4 338.2L391.6 338.9L389.3 339.1L388.8 339.9L389.8 341.4L389.7 341.9L388.3 343.0L387.7 342.6L386.5 341.4L386.9 339.9L385.8 339.8L385.1 339.1L384.3 339.2L383.4 341.4L382.5 343.3L381.8 345.1L381.5 346.3L382.3 347.9L383.6 349.0 M408.4 338.9L406.2 338.9L404.4 339.8L402.4 341.9L403.3 343.7L403.6 345.4L404.8 347.2L407.4 350.1L406.6 352.1L406.4 353.7L407.4 355.3L409.2 356.6L411.5 356.7L412.6 356.4L412.1 354.4L411.1 352.1L410.5 350.8L410.2 349.0L409.5 347.6L408.6 345.8L407.4 344.2L406.2 342.6L407.3 341.9L408.9 341.4L408.4 338.9 M345.2 332.9L346.6 331.0L348.1 330.5L347.3 330.3L345.7 330.1L346.7 328.9L346.2 328.2L346.3 327.4L347.9 327.4L348.0 326.2L347.3 325.3L347.4 324.6L346.0 325.0L346.2 323.8L345.2 323.9L345.0 321.9L345.0 320.2L346.1 318.4L348.0 318.4L347.1 319.9L349.0 319.9L348.9 320.9L348.3 322.2L347.8 322.7L349.0 323.1L349.6 324.6L350.9 326.0L351.1 326.8L351.3 327.9L352.3 328.0L352.8 328.7L352.3 329.9L351.9 330.6L352.5 330.6L352.4 331.2L351.3 331.7L349.6 331.9L348.5 332.0L347.4 331.9L347.1 332.7L345.5 333.1L345.2 332.9 M340.8 330.5L340.3 329.3L340.9 327.4L340.7 325.6L342.2 325.6L343.4 323.9L344.8 324.1L345.3 325.1L344.7 326.2L344.7 327.4L344.3 329.3L342.3 329.9L340.8 330.5 M333.1 310.5L329.7 309.8L328.7 308.3L328.4 307.1L330.1 305.7L331.7 306.8L334.1 306.0L336.2 305.6L337.6 306.0L338.4 307.9L337.0 309.0L335.0 309.8L333.1 310.5 M364.3 290.8L361.6 288.8L359.4 286.6L363.1 286.2L366.0 287.1L367.7 288.1L365.2 289.4L364.3 290.8 M366.0 287.1L365.4 286.0L369.0 285.6L371.6 286.1L370.1 287.0L367.1 287.1 M401.1 299.3L395.6 297.9L395.8 296.5L396.3 295.0L396.9 293.6L398.2 291.9L400.8 290.8L404.8 290.1L406.1 291.2L402.9 292.5L400.2 294.3L398.7 295.8L398.5 297.2L401.2 299.0L401.1 299.3 M429.0 288.8L424.3 287.5L420.8 286.2L422.0 284.8L425.3 286.2L430.1 286.8L432.9 288.4L430.3 288.9L429.0 288.8 M464.0 292.9L462.5 291.4L464.8 291.2L469.3 292.2L473.9 292.6L468.8 293.2L465.3 293.3L464.0 292.9 M468.8 295.3L470.1 294.6L471.6 295.2L470.2 295.5L468.8 295.3 M506.1 298.8L505.6 297.9L506.0 297.9 M196.0 297.9L197.7 298.2L196.0 298.8L194.8 298.8 M386.5 286.0L388.4 285.3L393.7 285.4L393.7 284.2L397.8 285.3L396.3 286.0L390.4 286.2L386.5 286.0 M497.2 325.5L497.4 327.0L498.6 329.3L500.6 331.3L502.5 334.8L504.0 337.5L505.3 340.1L505.7 339.1L506.9 340.1L505.0 337.5L504.9 334.8L503.5 334.3L501.9 331.3L500.0 328.7L497.2 325.5 M507.4 348.1L506.1 346.2L506.1 344.9L507.1 345.1L505.8 341.0L508.5 343.1L510.3 343.8L510.6 343.1L512.1 344.9L510.9 345.6L510.5 347.4L508.1 346.2L507.6 346.7L507.8 347.6L507.4 348.1 M508.4 348.1L509.9 349.9L511.1 351.5L511.5 353.9L511.9 356.2L512.5 358.5L512.0 359.8L511.5 359.3L511.1 360.5L510.3 360.5L508.9 360.5L508.4 359.8L509.0 361.1L508.2 362.5L506.9 361.3L506.9 360.4L505.0 360.9L503.8 361.1L502.3 361.8L502.6 360.9L503.4 359.1L505.0 358.7L506.9 358.5L506.9 357.5L507.3 355.3L507.6 356.6L508.9 354.6L509.0 352.6L508.2 351.0L508.1 349.4L507.8 348.7L508.6 349.2L508.4 348.1 M505.6 361.1L506.4 362.9L505.5 362.5L505.4 364.0L504.0 362.7L504.4 361.6L505.6 361.1 M502.3 361.8L501.8 362.3L501.2 363.1L501.7 364.0L502.2 364.9L503.0 366.7L503.6 367.0L504.1 366.3L504.0 364.3L503.7 362.9L503.2 362.2L502.3 361.8 M495.2 377.3L495.7 379.7L495.3 383.3L494.2 381.5L494.4 378.8L495.2 377.3 M483.7 386.7L483.7 388.7L482.7 390.1L481.4 388.3L482.3 386.9L483.7 386.7 M448.3 405.3L449.8 407.7L450.7 410.4L449.1 412.2L448.2 410.4L448.1 407.7L448.3 405.3 M496.2 389.4L497.9 389.6L498.6 392.3L497.7 394.1L498.0 396.1L499.6 397.5L500.9 398.6L501.4 400.3L500.4 399.5L499.2 397.9L498.0 398.1L497.0 398.1L497.2 396.8L496.4 396.3L495.6 394.1L496.0 393.0L496.2 389.4 M503.5 405.3L504.8 408.6L504.7 411.6L503.9 410.4L503.7 412.9L502.3 412.0L502.2 410.0L501.2 409.3L499.7 410.5L499.8 408.6L501.1 407.5L502.6 407.7L503.4 406.8L503.5 405.3 M501.7 400.4L502.9 400.4L503.6 403.1L503.1 404.9L502.6 404.4L502.0 402.6L501.7 400.4 M499.0 401.7L500.4 402.2L501.1 404.2L500.5 406.6L499.7 405.1L499.1 403.7L499.0 401.7 M493.6 407.8L495.6 404.9L496.0 402.4L495.1 404.9L493.6 407.8 M493.2 410.4L492.3 412.2L491.4 414.0L489.9 415.1L488.8 417.2L486.9 417.9L485.6 419.9L484.7 419.6L484.0 421.2L484.4 423.0L484.6 425.2L485.2 426.2L485.5 428.4L487.3 428.2L488.8 429.1L490.7 429.0L490.7 430.4L492.5 429.3L493.1 427.0L493.5 425.3L494.4 423.9L494.9 421.6L496.2 421.2L494.8 419.0L494.4 417.0L494.7 415.2L495.4 414.2L496.3 413.4L494.9 412.5L494.1 411.1L493.2 410.4 M467.1 412.9L469.8 413.6L471.4 415.8L474.0 418.5L475.2 419.9L477.4 422.1L478.4 424.8L479.1 427.2L480.3 428.4L480.1 431.1L479.9 433.7L479.2 432.9L478.4 433.7L476.9 431.7L475.7 429.9L474.2 427.5L473.5 424.8L472.2 422.5L471.6 419.9L470.2 418.7L469.0 416.3L467.7 414.9L467.1 412.9 M480.1 433.7L481.1 434.0L482.9 434.4L483.2 435.3L485.4 435.5L486.1 434.7L487.4 435.3L488.2 436.0L489.6 436.9L490.2 437.1L490.3 438.7L488.5 438.2L486.6 438.0L484.3 437.1L482.4 436.9L480.6 436.4L479.2 435.3L480.1 433.7 M490.4 437.6L493.4 437.6L495.7 437.8L495.6 438.9L493.3 439.2L491.1 438.9L490.4 437.6 M497.0 438.0L500.4 437.6L500.3 438.9L496.9 439.1L497.0 438.0 M495.6 440.0L497.8 440.3L497.4 441.4L495.6 440.7L495.6 440.0 M501.0 441.6L503.0 439.2L505.7 438.2L504.8 439.1L502.9 440.2L501.0 441.6 M503.6 419.9L502.7 421.4L501.1 422.1L498.7 420.8L497.5 421.7L497.2 424.6L496.4 426.6L496.0 429.3L496.8 430.2L496.5 433.1L497.6 432.9L497.8 430.2L497.6 427.9L498.6 428.1L499.2 430.2L499.5 431.7L500.7 431.7L500.9 430.2L500.2 428.4L499.2 426.6L499.9 424.8L501.5 424.6L499.9 424.1L498.7 424.8L497.7 423.9L498.4 422.1L500.5 422.3L502.3 422.5L503.3 421.4L503.6 419.9 M507.0 419.0L508.1 421.2L507.1 422.5L507.5 424.4L506.7 422.1L506.5 421.2L507.0 419.0 M507.1 428.2L510.5 428.4L510.1 429.5L507.1 429.1L507.1 428.2 M511.1 424.4L512.7 423.7L514.5 424.4L514.7 426.6L515.7 429.0L517.5 427.2L518.8 426.1L520.6 426.6L522.6 427.7L525.4 429.1L527.6 430.2L528.7 432.4L530.4 433.8L531.1 435.1L530.0 435.3L531.3 437.4L532.5 439.2L534.2 441.6L532.0 441.4L529.9 440.2L528.7 437.4L526.8 437.1L525.3 438.0L524.9 439.4L522.7 439.6L520.7 438.2L518.9 437.8L519.8 435.6L518.9 432.9L517.8 431.7L515.6 430.6L513.8 430.0L512.8 429.0L512.0 428.1L513.9 427.0L512.3 427.2L510.9 425.7L511.1 424.4 M524.0 442.3L524.7 445.6L525.1 449.2L526.7 449.2L526.7 453.5L527.2 457.8L529.2 459.7L529.5 461.1L531.0 463.6L531.1 466.0L532.5 468.7L531.9 472.5L531.7 474.6L530.2 477.7L527.1 482.4L525.7 484.2L524.3 486.4L521.6 490.7L519.3 491.2L516.4 493.6L515.4 492.3L515.7 491.4L513.4 493.0L512.0 492.3L510.7 491.6L510.4 489.8L510.1 487.3L509.5 487.3L510.5 485.8L510.3 484.7L508.5 486.6L510.8 482.6L511.1 481.7L507.4 486.0L507.0 483.7L506.6 481.0L504.0 479.9L501.3 480.2L497.5 481.3L494.8 482.6L491.9 484.2L488.8 485.1L486.7 486.2L483.8 485.1L484.1 483.5L485.7 480.8L485.6 477.7L485.8 475.0L485.4 471.2L485.6 469.0L486.1 468.0L486.7 463.8L487.4 462.4L488.5 462.2L490.9 460.4L493.1 459.7L495.9 458.6L498.0 455.5L499.2 452.8L499.8 454.2L501.2 452.2L502.3 450.1L504.1 448.3L506.1 449.7L507.5 450.1L508.1 447.9L509.5 445.6L510.5 444.8L511.8 445.0L511.4 443.2L512.9 444.5L514.5 444.7L516.9 445.0L515.7 447.4L514.8 449.7L516.1 451.5L517.9 453.2L519.3 454.8L520.5 454.6L521.6 451.9L522.3 448.3L522.7 445.6L523.5 442.9L524.0 442.3 M513.2 496.4L514.9 497.0L516.9 496.8L516.1 498.8L514.5 500.9L512.9 501.6L512.2 501.1L512.4 499.1L513.2 496.4 M550.2 485.1L551.3 486.7L550.8 489.4L551.5 490.9L554.0 491.1L551.8 493.9L550.5 494.3L546.5 498.1L546.3 497.5L547.9 495.5L547.8 495.0L547.2 493.9L548.4 493.2L549.5 491.6L550.1 489.8L550.3 488.7L550.0 486.6L550.2 485.1 M544.8 496.1L544.7 497.0L545.9 497.0L545.2 498.2L543.9 499.5L541.6 501.6L539.0 503.0L536.6 505.7L534.1 506.9L533.3 506.9L531.9 506.2L533.7 504.1L536.3 502.3L539.7 500.6L541.1 499.5L542.2 498.2L543.7 496.8L544.8 496.1 M531.7 432.9L533.8 432.0L535.7 430.6L536.6 430.6L536.4 432.0L535.0 433.1L533.7 434.4L532.3 433.8L531.7 432.9 M535.0 427.7L536.6 429.3L537.5 431.5L537.1 430.2L535.4 428.4L535.0 427.7 M539.5 432.9L540.8 435.3L539.8 434.2L539.5 432.9 M541.7 435.6L543.1 436.7L543.9 438.2L544.2 437.4L542.7 436.2L541.7 435.6 M545.0 439.8L546.4 440.7L545.6 440.9L545.0 439.8 M546.5 438.2L547.3 440.3L546.9 439.6L546.5 438.2 M547.0 441.6L548.0 442.5L547.4 442.1L547.0 441.6 M552.4 449.5L552.9 451.2L552.3 451.0L552.4 449.5 M552.9 451.9L553.3 453.0L552.7 452.6L552.9 451.9 M553.5 454.6L553.7 455.1L553.4 455.1L553.5 454.6 M547.6 459.3L549.3 461.5L550.4 463.4L549.7 463.3L548.4 461.3L547.6 459.3 M564.6 454.4L566.0 454.6L565.5 455.9L564.2 455.7L564.6 454.4 M568.0 452.2L566.7 453.3L566.2 453.5L566.8 452.8L568.0 452.2 M164.2 386.5L165.1 387.4L164.1 388.7L163.9 387.6L164.2 386.5 M163.5 385.1L164.2 385.6L163.6 385.8L163.5 385.1 M162.1 383.8L162.4 384.5L161.9 384.5L162.1 383.8 M160.4 382.9L160.7 383.3L160.3 383.5L160.4 382.9 M410.8 444.7L411.5 447.4L412.0 450.6L411.1 451.9L410.4 455.9L409.5 459.1L408.3 462.7L407.5 466.3L406.8 468.1L404.6 469.2L403.3 468.1L403.1 465.2L402.7 462.4L404.1 459.7L404.1 457.3L404.0 454.6L404.7 451.9L406.9 451.3L408.4 449.2L409.5 447.2L410.8 444.7 M424.7 510.6L426.0 511.7L425.1 512.4L424.3 511.5L424.7 510.6 M287.5 515.2L290.2 515.4L290.6 516.2L289.0 516.9L287.3 516.4L287.5 515.2 M368.7 354.0L368.5 356.2L368.3 356.7L366.9 356.0L365.2 355.1L365.4 354.2L366.9 354.4L368.7 354.0 M361.3 348.7L361.9 350.8L361.7 352.4L360.7 352.8L360.5 351.0L360.2 349.2L361.3 348.7 M361.4 345.4L361.6 347.2L361.3 348.3L360.6 347.2L360.7 346.2L361.4 345.4 M378.1 358.9L381.2 359.3L380.3 359.8L378.6 359.8L378.1 358.9 M390.7 358.5L390.1 359.8L389.0 360.5L388.1 359.6L389.5 359.1L390.7 358.5 M354.5 351.0L354.7 352.1L353.7 351.7L354.5 351.0 M363.6 322.6L363.4 324.4L362.4 324.1L362.1 323.3L363.6 322.6 M369.9 319.5L369.3 321.1L369.1 320.4L369.9 319.5 M415.7 400.1L417.1 400.4L416.1 400.8L415.7 400.1 M196.1 307.0L200.1 305.9L201.8 305.6L202.7 306.2L203.4 304.9L202.9 303.7L201.8 302.8L203.5 301.9L209.6 299.7L216.0 298.1L218.2 298.8L220.7 299.4L224.0 300.0L226.7 300.8L229.4 301.7L233.2 300.9L237.7 299.9L239.5 299.3L240.1 300.6L242.1 299.9L242.4 301.1L246.3 301.7L248.9 302.3L247.5 303.5L252.2 303.4L252.8 305.1L254.5 303.2L257.5 302.8L259.9 303.2L262.6 303.2L264.2 302.2L266.7 300.9L267.5 298.7L270.1 297.2L270.6 298.7L270.3 300.2L270.7 300.9L270.8 302.3L272.7 302.0L271.8 304.3L272.5 304.8L274.0 303.2L275.9 300.6L278.2 301.7L277.4 304.0L274.6 306.0L272.3 305.6L270.3 307.9L268.1 309.5L265.4 310.7L263.6 311.5L260.3 314.2L258.1 318.0L258.5 321.1L261.8 321.2L262.5 322.7L267.3 324.1L265.9 327.9L266.4 330.8L268.2 330.5L269.2 329.1L269.8 326.2L269.8 325.0L273.5 322.7L274.3 319.4L273.4 318.5L275.7 316.0L275.7 314.4L276.8 312.1L278.8 312.4L281.9 313.4L283.4 314.4L283.1 316.0L282.9 318.2L285.9 318.0L288.0 315.5L288.5 317.7L289.1 319.4L288.9 321.9L290.4 324.4L291.9 326.2L292.9 329.3L291.4 330.5L287.5 332.7L283.8 332.7L280.8 332.7L278.4 334.5L276.5 336.1L274.5 338.3L276.3 336.9L278.9 335.2L281.8 334.5L282.3 335.2L280.7 336.6L281.3 336.9L281.0 339.8L281.9 340.3L283.6 340.6L285.6 338.3L285.9 340.1L284.4 341.4L281.3 342.6L278.7 344.6L278.2 343.7L279.0 342.4L280.6 341.4L280.7 340.6L278.8 341.4L277.6 341.9L276.1 343.0L273.6 344.2L272.6 346.0L272.1 346.7L273.0 347.6L271.4 348.1L269.5 348.7L268.0 349.7L267.1 351.9L266.3 352.8L265.9 351.7L266.0 353.0L264.4 356.0L264.6 352.6L263.9 356.2L264.2 359.4L262.8 360.5L260.9 361.8L258.3 363.8L256.8 365.2L255.7 368.1L256.2 371.5L256.4 374.8L255.6 377.5L254.7 377.7L254.1 376.1L253.4 373.0L253.7 370.6L252.6 368.8L251.1 369.4L249.8 368.1L248.0 368.3L246.3 368.3L246.0 370.3L244.3 370.3L243.1 369.6L241.0 369.4L239.7 370.1L237.5 371.7L236.2 372.8L235.8 376.1L234.7 379.7L234.2 382.9L234.6 386.0L235.6 388.3L236.9 389.8L239.2 389.8L241.1 389.2L242.5 387.3L242.9 385.1L243.7 384.5L246.9 384.0L247.2 384.7L246.3 386.5L245.2 389.6L244.8 391.4L244.0 394.1L244.8 394.5L247.2 394.3L249.0 394.3L250.5 395.9L249.9 398.6L249.5 401.3L249.4 403.3L250.2 404.9L251.1 406.2L252.5 406.9L253.9 406.0L255.0 405.7L256.9 407.3L257.6 408.6L258.6 406.0L259.3 404.2L260.2 403.1L261.1 402.6L262.6 402.1L264.1 400.6L264.4 401.9L264.1 403.7L265.8 402.4L266.1 401.0L266.6 402.2L268.4 404.0L269.8 403.9L272.0 404.6L274.5 403.7L275.8 403.7L276.1 405.3L278.0 407.7L280.1 410.7L281.6 412.2L283.7 412.5L285.2 412.7L287.3 414.2L288.1 415.4L289.4 419.4L290.0 423.0L291.9 423.4L291.8 425.5L293.2 424.1L296.1 425.3L297.0 427.5L300.0 428.1L302.2 428.2L304.0 429.7L307.1 432.2L307.9 432.4L308.6 435.8L308.5 437.6L307.6 440.5L306.1 442.9L304.4 446.5L303.9 449.7L304.0 452.6L303.5 455.5L303.3 458.4L302.7 459.7L302.0 462.7L300.9 464.5L299.5 464.5L297.4 465.2L295.9 466.3L293.5 469.0L293.8 472.8L293.6 474.6L292.3 477.2L290.4 481.1L289.2 483.8L287.8 486.0L286.3 486.0L284.3 485.1L283.5 484.4L283.7 485.5L285.3 486.7L286.0 488.5L285.7 491.6L283.1 493.2L280.6 493.0L281.3 496.6L278.3 497.0L278.7 498.8L280.4 499.7L279.2 501.1L279.1 504.1L277.6 505.7L279.7 507.7L280.1 508.9L278.9 511.7L278.4 512.9L278.8 515.7L279.8 517.1L279.8 517.6L281.3 519.5L284.4 521.0L283.2 521.6L281.9 522.1L282.9 523.1L280.5 522.4L278.6 521.4L276.7 520.4L275.6 518.8L273.5 517.4L272.1 514.7L270.5 511.2L269.4 507.7L269.1 506.9L269.8 505.0L268.8 501.4L268.5 498.4L268.1 495.2L267.5 491.6L267.1 490.2L267.5 489.3L267.8 486.7L268.0 482.6L267.3 477.2L267.2 471.9L267.1 465.6L266.8 464.7L266.9 459.5L266.5 456.4L265.2 454.8L263.4 453.0L260.2 450.8L258.7 447.9L257.5 444.7L256.0 441.1L254.9 437.6L253.7 435.3L252.2 433.8L251.9 431.5L252.9 429.3L253.4 427.0L252.2 427.0L252.3 424.8L253.2 422.8L253.7 421.4L254.9 419.8L256.1 418.1L257.0 416.0L256.6 413.1L256.4 410.7L256.2 410.0L255.9 408.0L254.3 406.8L253.4 408.0L253.6 409.8L252.5 410.0L252.1 408.9L250.6 408.4L250.1 408.6L249.4 407.5L247.9 405.7L247.6 405.7L246.8 403.3L246.4 402.2L245.3 400.4L244.9 399.5L243.8 399.2L242.3 398.6L240.9 397.9L239.4 396.8L237.7 394.3L236.4 393.8L234.5 394.7L233.0 394.1L230.6 392.7L228.8 391.2L228.1 390.5L226.4 389.2L225.8 388.5L224.4 386.2L224.9 385.6L225.1 384.2L224.2 381.1L222.7 378.2L221.6 376.8L221.4 374.8L220.2 372.6L219.4 371.0L218.9 368.8L218.6 366.5L217.4 365.8L216.9 367.0L216.9 369.2L217.6 370.8L218.4 373.7L219.1 376.1L219.8 379.3L220.6 380.6L219.9 381.7L219.6 380.6L217.9 378.6L217.9 376.1L216.6 374.8L215.4 372.8L216.5 372.4L215.6 369.7L215.3 368.1L215.2 365.4L215.0 364.3L214.3 362.2L213.8 361.6L212.9 360.9L212.1 360.7L212.1 359.1L211.7 356.9L211.7 354.8L211.5 353.9L211.2 352.6L211.4 350.1L212.6 347.6L213.6 344.9L216.3 339.8L216.8 338.3L217.5 335.9L219.0 336.4L218.9 337.8L219.7 334.8L218.9 333.4L216.9 331.3L217.4 329.3L217.1 327.0L217.3 325.6L217.1 323.9L217.8 321.9L217.9 318.9L218.5 316.9L216.5 318.7L215.5 319.0L214.2 316.9L212.6 316.0L210.6 316.0L209.6 315.2L209.8 314.2L207.2 314.7L205.2 316.2L201.8 317.4L202.8 316.7L204.4 315.1L206.5 314.1L205.5 314.1L202.3 316.0L199.8 317.2L198.1 319.0L195.4 320.2L191.5 321.9L189.7 322.9L187.3 323.9L184.2 324.8L182.3 325.3L183.7 324.6L185.1 324.3L188.2 322.9L191.9 321.2L194.5 319.4L196.1 318.2L194.5 318.4L193.1 318.2L190.9 318.3L192.8 316.4L192.9 315.7L190.6 316.4L190.7 315.2L191.6 313.4L194.0 311.9L195.3 311.1L198.4 310.3L200.8 308.9L201.4 308.1L199.1 308.7L196.8 308.7L196.8 307.5L196.1 307.0 M191.1 301.9L192.2 302.8L193.0 304.0L194.9 304.8L195.5 306.2L193.3 307.1L189.6 308.9L187.9 308.3L187.3 305.9L184.1 307.9 M218.7 336.1L217.5 335.7L216.8 334.5L215.6 332.9L215.8 331.7L217.0 332.0L218.4 333.1L218.9 334.5L218.7 336.1 M214.6 325.8L215.7 326.2L214.7 327.5L214.2 329.6L213.7 327.9L214.6 325.8 M199.4 319.7L197.7 321.1L196.4 321.4L196.7 320.2L198.4 319.5L199.4 319.7 M189.6 310.0L191.8 310.7L190.4 311.1L189.2 310.7L189.6 310.0 M189.6 315.4L189.4 316.2L188.1 316.4L189.6 315.4 M292.9 330.3L291.7 333.1L291.7 333.6L292.5 334.0L293.7 333.6L294.1 334.3L294.2 335.4L293.6 336.2L294.2 336.4L294.3 337.3L293.5 339.1L292.4 338.7L292.8 337.5L290.6 338.5L290.7 337.3L289.1 337.3L287.2 337.3L287.6 335.7L288.8 334.7L290.1 332.7L291.1 331.3L292.5 330.3L292.9 330.3 M282.6 333.3L285.2 334.7L283.5 334.1L282.6 333.3 M281.8 338.3L283.8 339.4L282.9 340.1L281.8 339.4L281.8 338.3 M308.1 316.4L306.5 314.9L304.6 314.1L303.5 312.8L302.7 309.2L302.2 307.3L302.2 304.9L303.9 302.2L305.8 301.4L303.7 301.2L303.1 299.7L303.5 299.1L304.8 298.2L303.5 296.0L303.8 293.6L303.3 292.2L301.2 291.5L299.2 291.5L297.3 291.4L295.7 290.8L296.2 289.4L294.1 288.5L298.3 287.3L301.5 286.5L300.6 285.6L303.8 284.8L307.4 283.9L312.5 283.3L318.5 282.8L323.8 282.4L327.8 282.2L332.3 282.5L335.1 283.0L335.2 283.9L339.2 284.3L342.2 284.2L342.4 284.6L340.1 285.6L337.7 286.5L336.7 287.5L336.1 288.8L336.1 290.4L335.0 291.5L335.8 292.9L334.2 293.9L333.4 295.0L332.1 296.0L331.5 297.4L331.8 299.4L331.6 300.0L330.0 300.8L327.4 302.2L324.6 302.9L322.3 303.2L320.3 304.8L319.0 305.9L316.4 307.0L313.9 307.9L312.4 310.3L310.7 312.8L309.6 314.6L308.9 316.0L308.1 316.4 M287.9 312.9L285.8 312.1L284.5 311.6L283.4 309.8L282.3 309.2L280.2 308.7L279.5 309.2L278.3 308.4L279.4 307.3L282.2 307.3L284.4 305.6L285.1 304.3L284.5 302.5L283.1 300.9L281.4 299.9L278.9 300.5L276.1 300.0L273.5 298.8L274.6 296.5L276.0 294.9L277.5 294.6L280.1 294.5L279.6 295.8L282.0 294.7L283.2 294.7L285.6 294.9L286.5 296.2L287.6 297.4L289.0 298.7L291.3 299.4L291.9 300.9L292.1 302.5L293.3 303.9L295.0 305.4L292.9 307.1L292.0 308.1L290.8 306.2L289.4 305.6L289.5 307.9L290.3 310.3L289.6 311.8L286.6 310.0L287.9 312.3L287.9 312.9 M268.9 310.3L271.3 307.9L272.9 306.5L273.4 307.5L275.5 308.7L275.7 309.8L273.8 310.7L272.6 309.8L270.2 310.8L268.9 310.3 M249.8 302.3L254.3 301.7L257.9 301.5L259.8 302.0L262.2 300.5L260.4 298.7L261.6 296.0L258.1 295.8L254.8 295.2L250.5 296.2L248.9 297.9L248.4 299.3L247.8 301.1L248.4 301.9L249.8 302.3 M244.5 298.5L243.2 297.4L245.6 295.8L247.7 293.9L250.3 293.7L252.8 294.6L253.8 295.0L249.8 296.5L247.2 297.9L244.5 298.5 M254.9 292.9L255.9 291.5L261.2 290.7L264.0 290.7L264.8 292.2L262.5 293.0L259.6 293.3L257.3 292.9L254.9 292.9 M251.8 291.5L257.8 289.7L257.2 290.7L253.7 291.6L251.8 291.5 M269.7 292.9L269.5 290.8L271.9 290.8L271.4 292.0L269.7 292.9 M284.4 293.6L279.9 293.5L275.0 293.5L275.7 291.5L276.8 290.3L278.9 291.1L282.2 292.0L285.9 291.9L284.4 293.6 M285.6 291.2L279.0 290.9L281.1 289.8L281.8 288.5L284.1 287.7L285.0 286.2L282.8 285.0L287.2 283.9L293.0 283.1L297.7 282.7L300.6 282.7L305.5 283.3L303.5 284.2L298.4 285.6L295.0 286.6L292.4 287.5L292.1 288.4L290.0 289.0L288.7 290.4L285.6 291.2 M281.1 288.5L278.4 286.8L282.0 284.7L284.8 285.6L283.5 287.5L281.1 288.5 M274.6 288.8L273.9 287.5L270.4 287.5L270.5 288.5L273.1 289.0L274.6 288.8 M270.1 297.2L270.0 296.2L271.8 294.3L275.3 294.2L275.0 295.8L271.4 297.2L270.1 297.2 M265.5 298.2L263.8 296.5L267.0 294.6L269.2 295.0L268.7 296.8L265.5 298.2 M264.0 302.5L263.5 301.2L265.3 300.5L266.3 301.7L264.0 302.5 M249.6 383.5L251.8 381.7L253.3 381.1L255.0 381.3L256.7 382.4L258.4 383.3L259.5 384.2L260.4 384.9L262.1 386.3L260.1 387.1L257.8 387.3L257.6 385.6L256.0 384.0L254.0 383.1L252.5 382.2L250.9 382.9L249.6 383.5 M263.0 387.1L265.0 387.1L267.0 387.4L267.9 388.2L268.9 389.4L268.3 390.1L266.9 389.8L265.1 391.2L264.4 390.1L262.2 390.3L261.4 389.8L261.8 389.4L264.0 389.6L263.8 388.0L263.0 387.1 M256.9 389.8L258.5 389.6L259.3 390.7L258.1 390.9L256.8 390.1L256.9 389.8 M270.4 389.6L272.1 389.8L271.9 390.5L270.2 390.5L270.4 389.6 M258.3 377.7L258.6 379.3L258.3 379.7L258.0 378.4L258.3 377.7 M276.2 403.5L277.1 403.7L276.9 404.8L275.9 404.8L276.2 403.5 M210.3 557.5L222.7 557.9L226.7 557.0L225.1 555.9L231.2 554.5L236.8 553.8L243.4 552.4L251.0 551.7L254.9 551.4L260.0 552.4L267.2 553.1L266.5 550.2L267.7 549.5L275.3 550.7L283.9 551.0L287.2 549.5L285.6 546.6L288.0 544.3L289.2 542.0L290.9 539.6L292.0 537.7L297.2 535.3L297.2 536.8L294.3 538.9L296.7 542.8L297.1 545.8L299.2 548.8L300.2 551.7L302.1 553.8L311.5 556.6L315.6 557.0L319.6 557.2L323.5 557.0L325.5 555.9L329.8 553.8L332.7 551.7L336.6 550.2L339.9 548.8L342.3 547.3L346.6 546.3L351.0 545.8L355.4 545.8L359.8 545.8L364.2 545.8L368.6 545.5L373.1 545.1L377.6 544.3L383.9 544.0L384.5 545.1L388.7 542.8L392.5 542.0L398.7 539.6L402.4 539.6L405.5 541.2L409.7 542.0L412.9 542.8L414.5 545.1L417.0 543.5L420.6 543.5L425.4 541.2L430.4 540.4L435.0 540.4L441.4 538.9L447.3 539.6L452.1 540.1L456.5 539.6L460.5 540.4L465.1 540.4L470.3 539.6L474.9 539.6L478.5 540.7L481.7 541.2L483.8 542.8L486.7 543.5L489.4 544.3L492.2 545.1L494.0 546.6L498.0 547.8L494.2 550.2L485.8 553.1L481.3 555.9L483.0 556.6L484.3 557.2L491.7 557.5 M261.4 289.7L263.6 288.4L265.2 288.8L263.5 289.6L261.4 289.7 M262.5 288.4L265.1 287.7L265.9 288.1L262.5 288.4 M271.8 293.3L272.2 292.3L274.4 292.0L274.2 292.9L271.8 293.3 M283.3 295.9L283.6 294.7L286.5 294.9L286.4 295.8L283.3 295.9 M281.5 304.0L282.5 302.9L283.4 303.4L281.5 304.0 M271.9 311.3L273.5 311.8L272.3 312.4L271.9 311.3 M274.6 312.3L274.8 313.2L275.3 312.8L274.6 312.3 M266.4 327.5L267.2 328.0L266.3 328.2L266.4 327.5 M261.3 295.5L262.8 294.6L263.1 295.3L261.3 295.5 M253.8 292.0L255.3 291.5L255.4 291.9L253.8 292.0 M270.1 289.3L271.4 288.8L271.8 289.2L270.1 289.3 M275.2 288.9L275.6 287.7L277.6 288.0L276.5 288.8L275.2 288.9 M275.1 286.5L276.2 286.0L276.3 286.5L275.1 286.5 M275.5 289.4L277.1 289.0L277.5 289.4L275.5 289.4 M270.8 321.7L271.2 322.7L270.2 322.6L270.8 321.7 M303.7 301.2L302.9 300.3L304.7 299.7L305.2 300.6L303.7 301.2" fill="none" stroke="#000" stroke-width="1.65" stroke-linejoin="round" stroke-linecap="round"/>
</g>
<path d="M234.1 277.4L232.5 277.9L230.9 278.5L229.1 279.2L227.2 280.0L225.3 280.9L223.3 281.8L221.2 282.8L219.0 283.9L216.8 285.0L214.5 286.2L212.2 287.5L209.9 288.8L207.6 290.1L205.3 291.5L203.1 292.9L201.0 294.3L198.9 295.8L196.9 297.2L195.0 298.7L193.1 300.2L191.3 301.7L189.4 303.2L187.6 304.8L185.9 306.4L184.1 307.9L182.3 309.5L180.6 311.1L178.9 312.8L177.2 314.4L175.5 316.0L173.9 317.7L172.3 319.4L170.7 321.1L169.1 322.7L167.6 324.4L166.0 326.2L164.5 327.9L163.1 329.6L161.7 331.3L160.3 333.1L159.0 334.8L157.7 336.6L156.5 338.3L155.3 340.1L154.1 341.9L152.9 343.7L151.8 345.4L150.7 347.2L149.6 349.0L148.5 350.8L147.5 352.6L146.6 354.4L145.6 356.2L144.7 358.0L143.9 359.8L143.1 361.6L142.3 363.4L141.5 365.2L140.8 367.0L140.1 368.8L139.4 370.6L138.8 372.4L138.3 374.3L137.7 376.1L137.2 377.9L136.8 379.7L136.4 381.5L136.0 383.3L135.6 385.1L135.2 386.9L134.8 388.7L134.5 390.5L134.1 392.3L133.8 394.1L133.5 395.9L133.2 397.7L133.0 399.5L132.7 401.3L132.5 403.1L132.3 404.9L132.1 406.8L132.0 408.6L131.8 410.4L131.7 412.2L131.6 414.0L131.5 415.8L131.4 417.6L131.4 419.4L131.3 421.2L131.3 423.0L131.3 424.8L131.4 426.6L131.4 428.4L131.5 430.2L131.6 432.0L131.7 433.8L131.8 435.6L132.0 437.4L132.1 439.2L132.3 441.1L132.5 442.9L132.7 444.7L133.0 446.5L133.2 448.3L133.5 450.1L133.8 451.9L134.1 453.7L134.5 455.5L134.8 457.3L135.2 459.1L135.6 460.9L136.0 462.7L136.4 464.5L136.8 466.3L137.2 468.1L137.7 469.9L138.3 471.7L138.8 473.6L139.4 475.4L140.1 477.2L140.8 479.0L141.5 480.8L142.3 482.6L143.1 484.4L143.9 486.2L144.7 488.0L145.6 489.8L146.6 491.6L147.5 493.4L148.5 495.2L149.6 497.0L150.7 498.8L151.8 500.6L152.9 502.3L154.1 504.1L155.3 505.9L156.5 507.7L157.7 509.4L159.0 511.2L160.3 512.9L161.7 514.7L163.1 516.4L164.5 518.1L166.0 519.8L167.6 521.6L169.1 523.3L170.7 524.9L172.3 526.6L173.9 528.3L175.5 530.0L177.2 531.6L178.9 533.2L180.6 534.9L182.3 536.5L184.1 538.1L185.9 539.6L187.6 541.2L189.4 542.8L191.3 544.3L193.1 545.8L195.0 547.3L196.9 548.8L198.9 550.2L201.0 551.7L203.1 553.1L205.3 554.5L207.6 555.9L209.9 557.2L212.2 558.5L214.5 559.8L216.8 561.0L219.0 562.1L221.2 563.2L223.3 564.2L225.3 565.1L227.2 566.0L229.1 566.8L230.9 567.5L232.5 568.1L234.1 568.6L467.9 568.6L469.5 568.1L471.1 567.5L472.9 566.8L474.8 566.0L476.7 565.1L478.7 564.2L480.8 563.2L483.0 562.1L485.2 561.0L487.5 559.8L489.8 558.5L492.1 557.2L494.4 555.9L496.7 554.5L498.9 553.1L501.0 551.7L503.1 550.2L505.1 548.8L507.0 547.3L508.9 545.8L510.7 544.3L512.6 542.8L514.4 541.2L516.1 539.6L517.9 538.1L519.7 536.5L521.4 534.9L523.1 533.2L524.8 531.6L526.5 530.0L528.1 528.3L529.7 526.6L531.3 524.9L532.9 523.3L534.4 521.6L536.0 519.8L537.5 518.1L538.9 516.4L540.3 514.7L541.7 512.9L543.0 511.2L544.3 509.4L545.5 507.7L546.7 505.9L547.9 504.1L549.1 502.3L550.2 500.6L551.3 498.8L552.4 497.0L553.5 495.2L554.5 493.4L555.4 491.6L556.4 489.8L557.3 488.0L558.1 486.2L558.9 484.4L559.7 482.6L560.5 480.8L561.2 479.0L561.9 477.2L562.6 475.4L563.2 473.6L563.7 471.7L564.3 469.9L564.8 468.1L565.2 466.3L565.6 464.5L566.0 462.7L566.4 460.9L566.8 459.1L567.2 457.3L567.5 455.5L567.9 453.7L568.2 451.9L568.5 450.1L568.8 448.3L569.0 446.5L569.3 444.7L569.5 442.9L569.7 441.1L569.9 439.2L570.0 437.4L570.2 435.6L570.3 433.8L570.4 432.0L570.5 430.2L570.6 428.4L570.6 426.6L570.7 424.8L570.7 423.0L570.7 421.2L570.6 419.4L570.6 417.6L570.5 415.8L570.4 414.0L570.3 412.2L570.2 410.4L570.0 408.6L569.9 406.8L569.7 404.9L569.5 403.1L569.3 401.3L569.0 399.5L568.8 397.7L568.5 395.9L568.2 394.1L567.9 392.3L567.5 390.5L567.2 388.7L566.8 386.9L566.4 385.1L566.0 383.3L565.6 381.5L565.2 379.7L564.8 377.9L564.3 376.1L563.7 374.3L563.2 372.4L562.6 370.6L561.9 368.8L561.2 367.0L560.5 365.2L559.7 363.4L558.9 361.6L558.1 359.8L557.3 358.0L556.4 356.2L555.4 354.4L554.5 352.6L553.5 350.8L552.4 349.0L551.3 347.2L550.2 345.4L549.1 343.7L547.9 341.9L546.7 340.1L545.5 338.3L544.3 336.6L543.0 334.8L541.7 333.1L540.3 331.3L538.9 329.6L537.5 327.9L536.0 326.2L534.4 324.4L532.9 322.7L531.3 321.1L529.7 319.4L528.1 317.7L526.5 316.0L524.8 314.4L523.1 312.8L521.4 311.1L519.7 309.5L517.9 307.9L516.1 306.4L514.4 304.8L512.6 303.2L510.7 301.7L508.9 300.2L507.0 298.7L505.1 297.2L503.1 295.8L501.0 294.3L498.9 292.9L496.7 291.5L494.4 290.1L492.1 288.8L489.8 287.5L487.5 286.2L485.2 285.0L483.0 283.9L480.8 282.8L478.7 281.8L476.7 280.9L474.8 280.0L472.9 279.2L471.1 278.5L469.5 277.9L467.9 277.4Z" fill="none" stroke="#111" stroke-width="1.6"/>
</g>
<path d="M213 559H489" stroke="#111" stroke-width="1.4"/>
<rect x="598.2" y="503.38" width="13.2" height="42.92" fill="#f3d8cc"/>
<rect x="598.2" y="460.76" width="13.2" height="42.92" fill="#e6a88e"/>
<rect x="598.2" y="418.14" width="13.2" height="42.92" fill="#dc7a5e"/>
<rect x="598.2" y="375.52" width="13.2" height="42.92" fill="#d04a3a"/>
<rect x="598.2" y="332.90" width="13.2" height="42.92" fill="#b81424"/>
<rect x="598.2" y="290.28" width="13.2" height="42.92" fill="#980a18"/>
<path d="M598.2 546.0L611.4 546.0L604.8 559.0Z" fill="#fdf1ea"/>
<path d="M598.2 290.3L611.4 290.3L604.8 277.2Z" fill="#5e030e"/>
<path d="M598.2 546.0L604.8 559.0L611.4 546.0L611.4 290.3L604.8 277.2L598.2 290.3Z" fill="none" stroke="#222" stroke-width="1"/>
<path d="M611.4 546.0h4.5" stroke="#222" stroke-width="1"/>
<text x="622.2" y="552.8" font-size="18.3" textLength="28.2" lengthAdjust="spacingAndGlyphs">0.0</text>
<path d="M611.4 503.4h4.5" stroke="#222" stroke-width="1"/>
<text x="622.2" y="510.2" font-size="18.3" textLength="28.2" lengthAdjust="spacingAndGlyphs">0.5</text>
<path d="M611.4 460.8h4.5" stroke="#222" stroke-width="1"/>
<text x="622.2" y="467.6" font-size="18.3" textLength="28.2" lengthAdjust="spacingAndGlyphs">1.0</text>
<path d="M611.4 418.1h4.5" stroke="#222" stroke-width="1"/>
<text x="622.2" y="424.9" font-size="18.3" textLength="28.2" lengthAdjust="spacingAndGlyphs">1.5</text>
<path d="M611.4 375.5h4.5" stroke="#222" stroke-width="1"/>
<text x="622.2" y="382.3" font-size="18.3" textLength="28.2" lengthAdjust="spacingAndGlyphs">2.0</text>
<path d="M611.4 332.9h4.5" stroke="#222" stroke-width="1"/>
<text x="622.2" y="339.7" font-size="18.3" textLength="28.2" lengthAdjust="spacingAndGlyphs">3.0</text>
<path d="M611.4 290.3h4.5" stroke="#222" stroke-width="1"/>
<text x="622.2" y="297.1" font-size="18.3" textLength="28.2" lengthAdjust="spacingAndGlyphs">4.0</text>
<text transform="translate(670.8 418) rotate(-90)" text-anchor="middle" font-size="18.4">anomaly (°C)</text>
</svg>
</body></html>
